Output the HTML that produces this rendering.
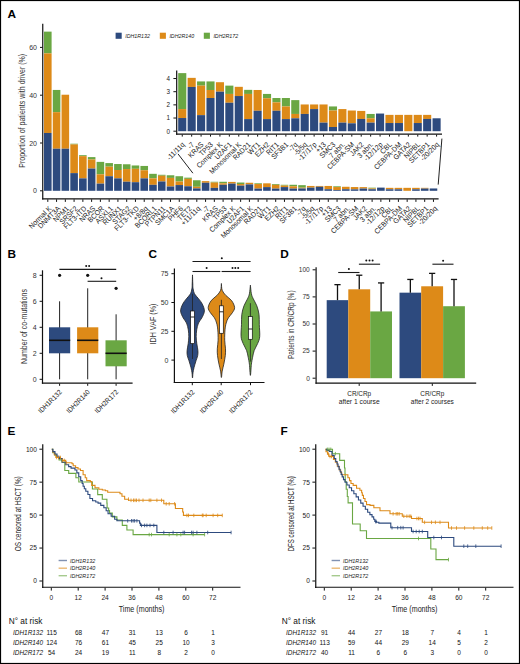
<!DOCTYPE html>
<html><head><meta charset="utf-8"><style>
html,body{margin:0;padding:0;background:#fff;}
svg{display:block;font-family:"Liberation Sans", sans-serif;}
</style></head><body>
<svg width="520" height="664" viewBox="0 0 520 664">
<rect x="0" y="0" width="520" height="664" fill="#fff"/>
<text x="7.40" y="17.50" font-size="11.8" text-anchor="start" fill="#000" font-weight="bold" font-style="normal">A</text>
<line x1="42.75" y1="23.70" x2="42.75" y2="199.40" stroke="#111" stroke-width="1.2"/>
<line x1="42.15" y1="198.80" x2="438.60" y2="198.80" stroke="#111" stroke-width="1.2"/>
<line x1="40.00" y1="190.80" x2="42.50" y2="190.80" stroke="#111" stroke-width="1.0"/>
<text x="37.00" y="193.30" font-size="7" text-anchor="end" fill="#333" font-weight="normal" font-style="normal">0</text>
<line x1="40.00" y1="143.00" x2="42.50" y2="143.00" stroke="#111" stroke-width="1.0"/>
<text x="37.00" y="145.50" font-size="7" text-anchor="end" fill="#333" font-weight="normal" font-style="normal">20</text>
<line x1="40.00" y1="95.20" x2="42.50" y2="95.20" stroke="#111" stroke-width="1.0"/>
<text x="37.00" y="97.70" font-size="7" text-anchor="end" fill="#333" font-weight="normal" font-style="normal">40</text>
<line x1="40.00" y1="47.40" x2="42.50" y2="47.40" stroke="#111" stroke-width="1.0"/>
<text x="37.00" y="49.90" font-size="7" text-anchor="end" fill="#333" font-weight="normal" font-style="normal">60</text>
<text x="24.80" y="110.80" font-size="9.5" text-anchor="middle" fill="#333" font-weight="normal" font-style="normal" transform="rotate(-90 24.80 110.80)" textLength="114" lengthAdjust="spacingAndGlyphs">Proportion of patients with driver (%)</text>
<rect x="44.00" y="31.63" width="7.60" height="21.75" fill="#6aa743"/>
<rect x="44.00" y="53.38" width="7.60" height="79.59" fill="#dd8a18"/>
<rect x="44.00" y="132.96" width="7.60" height="57.84" fill="#2d4a7e"/>
<line x1="47.80" y1="199.30" x2="47.80" y2="201.90" stroke="#111" stroke-width="1.0"/>
<text x="52.00" y="209.00" font-size="7.3" text-anchor="end" fill="#222" font-weight="normal" font-style="normal" transform="rotate(-45 52.00 209.00)" textLength="28.75" lengthAdjust="spacingAndGlyphs">Normal K</text>
<rect x="52.77" y="89.94" width="7.60" height="22.23" fill="#6aa743"/>
<rect x="52.77" y="112.17" width="7.60" height="36.57" fill="#dd8a18"/>
<rect x="52.77" y="148.74" width="7.60" height="42.06" fill="#2d4a7e"/>
<line x1="56.56" y1="199.30" x2="56.56" y2="201.90" stroke="#111" stroke-width="1.0"/>
<text x="60.77" y="209.00" font-size="7.3" text-anchor="end" fill="#222" font-weight="normal" font-style="normal" transform="rotate(-45 60.77 209.00)" textLength="28.37" lengthAdjust="spacingAndGlyphs">DNMT3A</text>
<rect x="61.53" y="94.72" width="7.60" height="54.01" fill="#dd8a18"/>
<rect x="61.53" y="148.74" width="7.60" height="42.06" fill="#2d4a7e"/>
<line x1="65.33" y1="199.30" x2="65.33" y2="201.90" stroke="#111" stroke-width="1.0"/>
<text x="69.53" y="209.00" font-size="7.3" text-anchor="end" fill="#222" font-weight="normal" font-style="normal" transform="rotate(-45 69.53 209.00)" textLength="19.17" lengthAdjust="spacingAndGlyphs">NPM1</text>
<rect x="70.30" y="143.72" width="7.60" height="0.72" fill="#6aa743"/>
<rect x="70.30" y="144.43" width="7.60" height="28.68" fill="#dd8a18"/>
<rect x="70.30" y="173.11" width="7.60" height="17.69" fill="#2d4a7e"/>
<line x1="74.09" y1="199.30" x2="74.09" y2="201.90" stroke="#111" stroke-width="1.0"/>
<text x="78.30" y="209.00" font-size="7.3" text-anchor="end" fill="#222" font-weight="normal" font-style="normal" transform="rotate(-45 78.30 209.00)" textLength="22.24" lengthAdjust="spacingAndGlyphs">SRSF2</text>
<rect x="79.06" y="155.19" width="7.60" height="0.96" fill="#6aa743"/>
<rect x="79.06" y="156.15" width="7.60" height="22.23" fill="#dd8a18"/>
<rect x="79.06" y="178.37" width="7.60" height="12.43" fill="#2d4a7e"/>
<line x1="82.86" y1="199.30" x2="82.86" y2="201.90" stroke="#111" stroke-width="1.0"/>
<text x="87.06" y="209.00" font-size="7.3" text-anchor="end" fill="#222" font-weight="normal" font-style="normal" transform="rotate(-45 87.06 209.00)" textLength="29.0" lengthAdjust="spacingAndGlyphs">FLT3-ITD</text>
<rect x="87.83" y="157.10" width="7.60" height="2.39" fill="#6aa743"/>
<rect x="87.83" y="159.49" width="7.60" height="9.08" fill="#dd8a18"/>
<rect x="87.83" y="168.57" width="7.60" height="22.23" fill="#2d4a7e"/>
<line x1="91.62" y1="199.30" x2="91.62" y2="201.90" stroke="#111" stroke-width="1.0"/>
<text x="95.83" y="209.00" font-size="7.3" text-anchor="end" fill="#222" font-weight="normal" font-style="normal" transform="rotate(-45 95.83 209.00)" textLength="19.17" lengthAdjust="spacingAndGlyphs">NRAS</text>
<rect x="96.59" y="161.88" width="7.60" height="12.43" fill="#6aa743"/>
<rect x="96.59" y="174.31" width="7.60" height="9.32" fill="#dd8a18"/>
<rect x="96.59" y="183.63" width="7.60" height="7.17" fill="#2d4a7e"/>
<line x1="100.39" y1="199.30" x2="100.39" y2="201.90" stroke="#111" stroke-width="1.0"/>
<text x="104.59" y="209.00" font-size="7.3" text-anchor="end" fill="#222" font-weight="normal" font-style="normal" transform="rotate(-45 104.59 209.00)" textLength="19.94" lengthAdjust="spacingAndGlyphs">BCOR</text>
<rect x="105.36" y="163.08" width="7.60" height="3.58" fill="#6aa743"/>
<rect x="105.36" y="166.66" width="7.60" height="9.56" fill="#dd8a18"/>
<rect x="105.36" y="176.22" width="7.60" height="14.58" fill="#2d4a7e"/>
<line x1="109.16" y1="199.30" x2="109.16" y2="201.90" stroke="#111" stroke-width="1.0"/>
<text x="113.36" y="209.00" font-size="7.3" text-anchor="end" fill="#222" font-weight="normal" font-style="normal" transform="rotate(-45 113.36 209.00)" textLength="21.48" lengthAdjust="spacingAndGlyphs">ASXL1</text>
<rect x="114.12" y="164.03" width="7.60" height="5.97" fill="#6aa743"/>
<rect x="114.12" y="170.01" width="7.60" height="8.37" fill="#dd8a18"/>
<rect x="114.12" y="178.37" width="7.60" height="12.43" fill="#2d4a7e"/>
<line x1="117.92" y1="199.30" x2="117.92" y2="201.90" stroke="#111" stroke-width="1.0"/>
<text x="122.12" y="209.00" font-size="7.3" text-anchor="end" fill="#222" font-weight="normal" font-style="normal" transform="rotate(-45 122.12 209.00)" textLength="23.39" lengthAdjust="spacingAndGlyphs">RUNX1</text>
<rect x="122.89" y="164.27" width="7.60" height="4.78" fill="#6aa743"/>
<rect x="122.89" y="169.05" width="7.60" height="12.67" fill="#dd8a18"/>
<rect x="122.89" y="181.72" width="7.60" height="9.08" fill="#2d4a7e"/>
<line x1="126.69" y1="199.30" x2="126.69" y2="201.90" stroke="#111" stroke-width="1.0"/>
<text x="130.88" y="209.00" font-size="7.3" text-anchor="end" fill="#222" font-weight="normal" font-style="normal" transform="rotate(-45 130.88 209.00)" textLength="22.11" lengthAdjust="spacingAndGlyphs">STAG2</text>
<rect x="131.65" y="165.47" width="7.60" height="3.35" fill="#6aa743"/>
<rect x="131.65" y="168.81" width="7.60" height="13.38" fill="#dd8a18"/>
<rect x="131.65" y="182.20" width="7.60" height="8.60" fill="#2d4a7e"/>
<line x1="135.45" y1="199.30" x2="135.45" y2="201.90" stroke="#111" stroke-width="1.0"/>
<text x="139.65" y="209.00" font-size="7.3" text-anchor="end" fill="#222" font-weight="normal" font-style="normal" transform="rotate(-45 139.65 209.00)" textLength="31.69" lengthAdjust="spacingAndGlyphs">FLT3-TKD</text>
<rect x="140.42" y="165.94" width="7.60" height="4.30" fill="#6aa743"/>
<rect x="140.42" y="170.25" width="7.60" height="8.13" fill="#dd8a18"/>
<rect x="140.42" y="178.37" width="7.60" height="12.43" fill="#2d4a7e"/>
<line x1="144.22" y1="199.30" x2="144.22" y2="201.90" stroke="#111" stroke-width="1.0"/>
<text x="148.42" y="209.00" font-size="7.3" text-anchor="end" fill="#222" font-weight="normal" font-style="normal" transform="rotate(-45 148.42 209.00)" textLength="17.46" lengthAdjust="spacingAndGlyphs">+8/8q</text>
<rect x="149.18" y="173.83" width="7.60" height="4.54" fill="#6aa743"/>
<rect x="149.18" y="178.37" width="7.60" height="6.45" fill="#dd8a18"/>
<rect x="149.18" y="184.83" width="7.60" height="5.97" fill="#2d4a7e"/>
<line x1="152.98" y1="199.30" x2="152.98" y2="201.90" stroke="#111" stroke-width="1.0"/>
<text x="157.18" y="209.00" font-size="7.3" text-anchor="end" fill="#222" font-weight="normal" font-style="normal" transform="rotate(-45 157.18 209.00)" textLength="27.61" lengthAdjust="spacingAndGlyphs">BCORL1</text>
<rect x="157.94" y="174.79" width="7.60" height="0.96" fill="#6aa743"/>
<rect x="157.94" y="175.74" width="7.60" height="5.74" fill="#dd8a18"/>
<rect x="157.94" y="181.48" width="7.60" height="9.32" fill="#2d4a7e"/>
<line x1="161.75" y1="199.30" x2="161.75" y2="201.90" stroke="#111" stroke-width="1.0"/>
<text x="165.94" y="209.00" font-size="7.3" text-anchor="end" fill="#222" font-weight="normal" font-style="normal" transform="rotate(-45 165.94 209.00)" textLength="25.56" lengthAdjust="spacingAndGlyphs">PTPN11</text>
<rect x="166.71" y="175.27" width="7.60" height="2.63" fill="#6aa743"/>
<rect x="166.71" y="177.89" width="7.60" height="8.60" fill="#dd8a18"/>
<rect x="166.71" y="186.50" width="7.60" height="4.30" fill="#2d4a7e"/>
<line x1="170.51" y1="199.30" x2="170.51" y2="201.90" stroke="#111" stroke-width="1.0"/>
<text x="174.71" y="209.00" font-size="7.3" text-anchor="end" fill="#222" font-weight="normal" font-style="normal" transform="rotate(-45 174.71 209.00)" textLength="23.77" lengthAdjust="spacingAndGlyphs">SMC1A</text>
<rect x="175.48" y="176.22" width="7.60" height="5.26" fill="#6aa743"/>
<rect x="175.48" y="181.48" width="7.60" height="3.59" fill="#dd8a18"/>
<rect x="175.48" y="185.06" width="7.60" height="5.74" fill="#2d4a7e"/>
<line x1="179.28" y1="199.30" x2="179.28" y2="201.90" stroke="#111" stroke-width="1.0"/>
<text x="183.48" y="209.00" font-size="7.3" text-anchor="end" fill="#222" font-weight="normal" font-style="normal" transform="rotate(-45 183.48 209.00)" textLength="17.64" lengthAdjust="spacingAndGlyphs">PHF6</text>
<rect x="184.24" y="177.66" width="7.60" height="1.20" fill="#6aa743"/>
<rect x="184.24" y="178.85" width="7.60" height="7.41" fill="#dd8a18"/>
<rect x="184.24" y="186.26" width="7.60" height="4.54" fill="#2d4a7e"/>
<line x1="188.04" y1="199.30" x2="188.04" y2="201.90" stroke="#111" stroke-width="1.0"/>
<text x="192.24" y="209.00" font-size="7.3" text-anchor="end" fill="#222" font-weight="normal" font-style="normal" transform="rotate(-45 192.24 209.00)" textLength="16.87" lengthAdjust="spacingAndGlyphs">TET2</text>
<rect x="193.00" y="180.26" width="7.60" height="6.52" fill="#6aa743"/>
<rect x="193.00" y="186.78" width="7.60" height="1.63" fill="#dd8a18"/>
<rect x="193.00" y="188.41" width="7.60" height="2.39" fill="#2d4a7e"/>
<line x1="196.81" y1="199.30" x2="196.81" y2="201.90" stroke="#111" stroke-width="1.0"/>
<text x="201.00" y="209.00" font-size="7.3" text-anchor="end" fill="#222" font-weight="normal" font-style="normal" transform="rotate(-45 201.00 209.00)" textLength="24.11" lengthAdjust="spacingAndGlyphs">+11/11q</text>
<rect x="201.77" y="181.12" width="7.60" height="1.65" fill="#dd8a18"/>
<rect x="201.77" y="182.77" width="7.60" height="8.03" fill="#2d4a7e"/>
<line x1="205.57" y1="199.30" x2="205.57" y2="201.90" stroke="#111" stroke-width="1.0"/>
<text x="209.77" y="209.00" font-size="7.3" text-anchor="end" fill="#222" font-weight="normal" font-style="normal" transform="rotate(-45 209.77 209.00)" textLength="6.13" lengthAdjust="spacingAndGlyphs">-7</text>
<rect x="210.54" y="181.77" width="7.60" height="0.76" fill="#6aa743"/>
<rect x="210.54" y="182.53" width="7.60" height="5.35" fill="#dd8a18"/>
<rect x="210.54" y="187.88" width="7.60" height="2.92" fill="#2d4a7e"/>
<line x1="214.34" y1="199.30" x2="214.34" y2="201.90" stroke="#111" stroke-width="1.0"/>
<text x="218.54" y="209.00" font-size="7.3" text-anchor="end" fill="#222" font-weight="normal" font-style="normal" transform="rotate(-45 218.54 209.00)" textLength="18.79" lengthAdjust="spacingAndGlyphs">KRAS</text>
<rect x="219.30" y="181.77" width="7.60" height="1.55" fill="#6aa743"/>
<rect x="219.30" y="183.32" width="7.60" height="1.46" fill="#dd8a18"/>
<rect x="219.30" y="184.78" width="7.60" height="6.02" fill="#2d4a7e"/>
<line x1="223.10" y1="199.30" x2="223.10" y2="201.90" stroke="#111" stroke-width="1.0"/>
<text x="227.30" y="209.00" font-size="7.3" text-anchor="end" fill="#222" font-weight="normal" font-style="normal" transform="rotate(-45 227.30 209.00)" textLength="16.49" lengthAdjust="spacingAndGlyphs">TP53</text>
<rect x="228.06" y="181.91" width="7.60" height="1.72" fill="#dd8a18"/>
<rect x="228.06" y="183.63" width="7.60" height="7.17" fill="#2d4a7e"/>
<line x1="231.87" y1="199.30" x2="231.87" y2="201.90" stroke="#111" stroke-width="1.0"/>
<text x="236.06" y="209.00" font-size="7.3" text-anchor="end" fill="#222" font-weight="normal" font-style="normal" transform="rotate(-45 236.06 209.00)" textLength="33.74" lengthAdjust="spacingAndGlyphs">Complex K</text>
<rect x="236.83" y="182.53" width="7.60" height="1.51" fill="#6aa743"/>
<rect x="236.83" y="184.04" width="7.60" height="1.60" fill="#dd8a18"/>
<rect x="236.83" y="185.64" width="7.60" height="5.16" fill="#2d4a7e"/>
<line x1="240.63" y1="199.30" x2="240.63" y2="201.90" stroke="#111" stroke-width="1.0"/>
<text x="244.83" y="209.00" font-size="7.3" text-anchor="end" fill="#222" font-weight="normal" font-style="normal" transform="rotate(-45 244.83 209.00)" textLength="21.47" lengthAdjust="spacingAndGlyphs">U2AF1</text>
<rect x="245.60" y="182.75" width="7.60" height="1.67" fill="#dd8a18"/>
<rect x="245.60" y="184.42" width="7.60" height="6.38" fill="#2d4a7e"/>
<line x1="249.40" y1="199.30" x2="249.40" y2="201.90" stroke="#111" stroke-width="1.0"/>
<text x="253.60" y="209.00" font-size="7.3" text-anchor="end" fill="#222" font-weight="normal" font-style="normal" transform="rotate(-45 253.60 209.00)" textLength="42.18" lengthAdjust="spacingAndGlyphs">Monosomal K</text>
<rect x="254.36" y="183.30" width="7.60" height="0.74" fill="#6aa743"/>
<rect x="254.36" y="184.04" width="7.60" height="4.56" fill="#dd8a18"/>
<rect x="254.36" y="188.60" width="7.60" height="2.20" fill="#2d4a7e"/>
<line x1="258.16" y1="199.30" x2="258.16" y2="201.90" stroke="#111" stroke-width="1.0"/>
<text x="262.36" y="209.00" font-size="7.3" text-anchor="end" fill="#222" font-weight="normal" font-style="normal" transform="rotate(-45 262.36 209.00)" textLength="22.24" lengthAdjust="spacingAndGlyphs">RAD21</text>
<rect x="263.12" y="183.32" width="7.60" height="3.78" fill="#dd8a18"/>
<rect x="263.12" y="187.10" width="7.60" height="3.70" fill="#2d4a7e"/>
<line x1="266.93" y1="199.30" x2="266.93" y2="201.90" stroke="#111" stroke-width="1.0"/>
<text x="271.12" y="209.00" font-size="7.3" text-anchor="end" fill="#222" font-weight="normal" font-style="normal" transform="rotate(-45 271.12 209.00)" textLength="14.56" lengthAdjust="spacingAndGlyphs">WT1</text>
<rect x="271.89" y="184.04" width="7.60" height="0.79" fill="#6aa743"/>
<rect x="271.89" y="184.83" width="7.60" height="3.78" fill="#dd8a18"/>
<rect x="271.89" y="188.60" width="7.60" height="2.20" fill="#2d4a7e"/>
<line x1="275.69" y1="199.30" x2="275.69" y2="201.90" stroke="#111" stroke-width="1.0"/>
<text x="279.89" y="209.00" font-size="7.3" text-anchor="end" fill="#222" font-weight="normal" font-style="normal" transform="rotate(-45 279.89 209.00)" textLength="17.64" lengthAdjust="spacingAndGlyphs">EZH2</text>
<rect x="280.66" y="184.78" width="7.60" height="0.79" fill="#6aa743"/>
<rect x="280.66" y="185.57" width="7.60" height="1.53" fill="#dd8a18"/>
<rect x="280.66" y="187.10" width="7.60" height="3.70" fill="#2d4a7e"/>
<line x1="284.46" y1="199.30" x2="284.46" y2="201.90" stroke="#111" stroke-width="1.0"/>
<text x="288.66" y="209.00" font-size="7.3" text-anchor="end" fill="#222" font-weight="normal" font-style="normal" transform="rotate(-45 288.66 209.00)" textLength="14.95" lengthAdjust="spacingAndGlyphs">RIT1</text>
<rect x="289.42" y="184.78" width="7.60" height="1.53" fill="#6aa743"/>
<rect x="289.42" y="186.31" width="7.60" height="2.29" fill="#dd8a18"/>
<rect x="289.42" y="188.60" width="7.60" height="2.20" fill="#2d4a7e"/>
<line x1="293.22" y1="199.30" x2="293.22" y2="201.90" stroke="#111" stroke-width="1.0"/>
<text x="297.42" y="209.00" font-size="7.3" text-anchor="end" fill="#222" font-weight="normal" font-style="normal" transform="rotate(-45 297.42 209.00)" textLength="21.09" lengthAdjust="spacingAndGlyphs">SF3B1</text>
<rect x="298.19" y="185.16" width="7.60" height="2.51" fill="#6aa743"/>
<rect x="298.19" y="187.67" width="7.60" height="0.79" fill="#dd8a18"/>
<rect x="298.19" y="188.46" width="7.60" height="2.34" fill="#2d4a7e"/>
<line x1="301.99" y1="199.30" x2="301.99" y2="201.90" stroke="#111" stroke-width="1.0"/>
<text x="306.19" y="209.00" font-size="7.3" text-anchor="end" fill="#222" font-weight="normal" font-style="normal" transform="rotate(-45 306.19 209.00)" textLength="9.97" lengthAdjust="spacingAndGlyphs">-7q</text>
<rect x="306.95" y="185.95" width="7.60" height="1.72" fill="#dd8a18"/>
<rect x="306.95" y="187.67" width="7.60" height="3.13" fill="#2d4a7e"/>
<line x1="310.75" y1="199.30" x2="310.75" y2="201.90" stroke="#111" stroke-width="1.0"/>
<text x="314.95" y="209.00" font-size="7.3" text-anchor="end" fill="#222" font-weight="normal" font-style="normal" transform="rotate(-45 314.95 209.00)" textLength="15.73" lengthAdjust="spacingAndGlyphs">-5/5q</text>
<rect x="315.72" y="185.95" width="7.60" height="0.84" fill="#dd8a18"/>
<rect x="315.72" y="186.78" width="7.60" height="4.02" fill="#2d4a7e"/>
<line x1="319.52" y1="199.30" x2="319.52" y2="201.90" stroke="#111" stroke-width="1.0"/>
<text x="323.72" y="209.00" font-size="7.3" text-anchor="end" fill="#222" font-weight="normal" font-style="normal" transform="rotate(-45 323.72 209.00)" textLength="23.4" lengthAdjust="spacingAndGlyphs">-17/17p</text>
<rect x="324.48" y="185.95" width="7.60" height="3.30" fill="#dd8a18"/>
<rect x="324.48" y="189.25" width="7.60" height="1.55" fill="#2d4a7e"/>
<line x1="328.28" y1="199.30" x2="328.28" y2="201.90" stroke="#111" stroke-width="1.0"/>
<text x="332.48" y="209.00" font-size="7.3" text-anchor="end" fill="#222" font-weight="normal" font-style="normal" transform="rotate(-45 332.48 209.00)" textLength="11.7" lengthAdjust="spacingAndGlyphs">+13</text>
<rect x="333.25" y="186.31" width="7.60" height="0.74" fill="#6aa743"/>
<rect x="333.25" y="187.05" width="7.60" height="2.99" fill="#dd8a18"/>
<rect x="333.25" y="190.04" width="7.60" height="0.76" fill="#2d4a7e"/>
<line x1="337.05" y1="199.30" x2="337.05" y2="201.90" stroke="#111" stroke-width="1.0"/>
<text x="341.25" y="209.00" font-size="7.3" text-anchor="end" fill="#222" font-weight="normal" font-style="normal" transform="rotate(-45 341.25 209.00)" textLength="19.17" lengthAdjust="spacingAndGlyphs">SMC3</text>
<rect x="342.01" y="186.78" width="7.60" height="2.46" fill="#dd8a18"/>
<rect x="342.01" y="189.25" width="7.60" height="1.55" fill="#2d4a7e"/>
<line x1="345.81" y1="199.30" x2="345.81" y2="201.90" stroke="#111" stroke-width="1.0"/>
<text x="350.01" y="209.00" font-size="7.3" text-anchor="end" fill="#222" font-weight="normal" font-style="normal" transform="rotate(-45 350.01 209.00)" textLength="19.18" lengthAdjust="spacingAndGlyphs">7 abn.</text>
<rect x="350.78" y="187.05" width="7.60" height="2.32" fill="#dd8a18"/>
<rect x="350.78" y="189.37" width="7.60" height="1.43" fill="#2d4a7e"/>
<line x1="354.58" y1="199.30" x2="354.58" y2="201.90" stroke="#111" stroke-width="1.0"/>
<text x="358.78" y="209.00" font-size="7.3" text-anchor="end" fill="#222" font-weight="normal" font-style="normal" transform="rotate(-45 358.78 209.00)" textLength="35.53" lengthAdjust="spacingAndGlyphs">CEBPA-SM</text>
<rect x="359.54" y="187.12" width="7.60" height="1.46" fill="#dd8a18"/>
<rect x="359.54" y="188.58" width="7.60" height="2.22" fill="#2d4a7e"/>
<line x1="363.34" y1="199.30" x2="363.34" y2="201.90" stroke="#111" stroke-width="1.0"/>
<text x="367.54" y="209.00" font-size="7.3" text-anchor="end" fill="#222" font-weight="normal" font-style="normal" transform="rotate(-45 367.54 209.00)" textLength="16.49" lengthAdjust="spacingAndGlyphs">JAK2</text>
<rect x="368.31" y="187.67" width="7.60" height="0.79" fill="#6aa743"/>
<rect x="368.31" y="188.46" width="7.60" height="0.79" fill="#dd8a18"/>
<rect x="368.31" y="189.25" width="7.60" height="1.55" fill="#2d4a7e"/>
<line x1="372.11" y1="199.30" x2="372.11" y2="201.90" stroke="#111" stroke-width="1.0"/>
<text x="376.31" y="209.00" font-size="7.3" text-anchor="end" fill="#222" font-weight="normal" font-style="normal" transform="rotate(-45 376.31 209.00)" textLength="19.18" lengthAdjust="spacingAndGlyphs">3 abn.</text>
<rect x="377.07" y="187.60" width="7.60" height="3.20" fill="#2d4a7e"/>
<line x1="380.87" y1="199.30" x2="380.87" y2="201.90" stroke="#111" stroke-width="1.0"/>
<text x="385.07" y="209.00" font-size="7.3" text-anchor="end" fill="#222" font-weight="normal" font-style="normal" transform="rotate(-45 385.07 209.00)" textLength="23.4" lengthAdjust="spacingAndGlyphs">-12/12p</text>
<rect x="385.84" y="187.84" width="7.60" height="1.48" fill="#dd8a18"/>
<rect x="385.84" y="189.32" width="7.60" height="1.48" fill="#2d4a7e"/>
<line x1="389.64" y1="199.30" x2="389.64" y2="201.90" stroke="#111" stroke-width="1.0"/>
<text x="393.84" y="209.00" font-size="7.3" text-anchor="end" fill="#222" font-weight="normal" font-style="normal" transform="rotate(-45 393.84 209.00)" textLength="13.42" lengthAdjust="spacingAndGlyphs">CBL</text>
<rect x="394.60" y="187.84" width="7.60" height="1.48" fill="#dd8a18"/>
<rect x="394.60" y="189.32" width="7.60" height="1.48" fill="#2d4a7e"/>
<line x1="398.40" y1="199.30" x2="398.40" y2="201.90" stroke="#111" stroke-width="1.0"/>
<text x="402.60" y="209.00" font-size="7.3" text-anchor="end" fill="#222" font-weight="normal" font-style="normal" transform="rotate(-45 402.60 209.00)" textLength="35.91" lengthAdjust="spacingAndGlyphs">CEBPA-DM</text>
<rect x="403.37" y="187.84" width="7.60" height="2.96" fill="#dd8a18"/>
<line x1="407.17" y1="199.30" x2="407.17" y2="201.90" stroke="#111" stroke-width="1.0"/>
<text x="411.37" y="209.00" font-size="7.3" text-anchor="end" fill="#222" font-weight="normal" font-style="normal" transform="rotate(-45 411.37 209.00)" textLength="21.6" lengthAdjust="spacingAndGlyphs">GATA2</text>
<rect x="412.13" y="187.84" width="7.60" height="1.48" fill="#dd8a18"/>
<rect x="412.13" y="189.32" width="7.60" height="1.48" fill="#2d4a7e"/>
<line x1="415.93" y1="199.30" x2="415.93" y2="201.90" stroke="#111" stroke-width="1.0"/>
<text x="420.13" y="209.00" font-size="7.3" text-anchor="end" fill="#222" font-weight="normal" font-style="normal" transform="rotate(-45 420.13 209.00)" textLength="19.94" lengthAdjust="spacingAndGlyphs">NIPBL</text>
<rect x="420.90" y="187.84" width="7.60" height="0.74" fill="#dd8a18"/>
<rect x="420.90" y="188.58" width="7.60" height="2.22" fill="#2d4a7e"/>
<line x1="424.70" y1="199.30" x2="424.70" y2="201.90" stroke="#111" stroke-width="1.0"/>
<text x="428.90" y="209.00" font-size="7.3" text-anchor="end" fill="#222" font-weight="normal" font-style="normal" transform="rotate(-45 428.90 209.00)" textLength="26.46" lengthAdjust="spacingAndGlyphs">SETBP1</text>
<rect x="429.66" y="188.46" width="7.60" height="2.34" fill="#2d4a7e"/>
<line x1="433.46" y1="199.30" x2="433.46" y2="201.90" stroke="#111" stroke-width="1.0"/>
<text x="437.66" y="209.00" font-size="7.3" text-anchor="end" fill="#222" font-weight="normal" font-style="normal" transform="rotate(-45 437.66 209.00)" textLength="23.4" lengthAdjust="spacingAndGlyphs">-20/20q</text>
<rect x="115.60" y="32.70" width="6.10" height="6.10" fill="#2d4a7e"/>
<text x="125.20" y="37.70" font-size="5.7" text-anchor="start" fill="#222" font-weight="normal" font-style="italic" textLength="24.8" lengthAdjust="spacingAndGlyphs">IDH1R132</text>
<rect x="159.80" y="32.70" width="6.10" height="6.10" fill="#dd8a18"/>
<text x="169.40" y="37.70" font-size="5.7" text-anchor="start" fill="#222" font-weight="normal" font-style="italic" textLength="24.8" lengthAdjust="spacingAndGlyphs">IDH2R140</text>
<rect x="203.80" y="32.70" width="6.10" height="6.10" fill="#6aa743"/>
<text x="213.40" y="37.70" font-size="5.7" text-anchor="start" fill="#222" font-weight="normal" font-style="italic" textLength="24.8" lengthAdjust="spacingAndGlyphs">IDH2R172</text>
<line x1="176.70" y1="70.40" x2="176.70" y2="134.80" stroke="#111" stroke-width="1.2"/>
<line x1="176.10" y1="134.20" x2="442.00" y2="134.20" stroke="#111" stroke-width="1.2"/>
<line x1="173.40" y1="131.20" x2="176.30" y2="131.20" stroke="#111" stroke-width="1.0"/>
<text x="170.00" y="133.50" font-size="6.3" text-anchor="end" fill="#222" font-weight="normal" font-style="normal">0</text>
<line x1="173.40" y1="118.03" x2="176.30" y2="118.03" stroke="#111" stroke-width="1.0"/>
<text x="170.00" y="120.33" font-size="6.3" text-anchor="end" fill="#222" font-weight="normal" font-style="normal">1</text>
<line x1="173.40" y1="104.86" x2="176.30" y2="104.86" stroke="#111" stroke-width="1.0"/>
<text x="170.00" y="107.16" font-size="6.3" text-anchor="end" fill="#222" font-weight="normal" font-style="normal">2</text>
<line x1="173.40" y1="91.69" x2="176.30" y2="91.69" stroke="#111" stroke-width="1.0"/>
<text x="170.00" y="93.99" font-size="6.3" text-anchor="end" fill="#222" font-weight="normal" font-style="normal">3</text>
<line x1="173.40" y1="78.52" x2="176.30" y2="78.52" stroke="#111" stroke-width="1.0"/>
<text x="170.00" y="80.82" font-size="6.3" text-anchor="end" fill="#222" font-weight="normal" font-style="normal">4</text>
<rect x="178.20" y="73.12" width="8.10" height="35.95" fill="#6aa743"/>
<rect x="178.20" y="109.07" width="8.10" height="8.96" fill="#dd8a18"/>
<rect x="178.20" y="118.03" width="8.10" height="13.17" fill="#2d4a7e"/>
<line x1="182.25" y1="134.60" x2="182.25" y2="136.60" stroke="#111" stroke-width="1.0"/>
<text x="185.25" y="145.10" font-size="7.3" text-anchor="end" fill="#222" font-weight="normal" font-style="normal" transform="rotate(-45 185.25 145.10)" textLength="22.05" lengthAdjust="spacingAndGlyphs">-11/11q</text>
<rect x="187.62" y="77.86" width="8.10" height="9.09" fill="#dd8a18"/>
<rect x="187.62" y="86.95" width="8.10" height="44.25" fill="#2d4a7e"/>
<line x1="191.67" y1="134.60" x2="191.67" y2="136.60" stroke="#111" stroke-width="1.0"/>
<text x="194.67" y="145.10" font-size="7.3" text-anchor="end" fill="#222" font-weight="normal" font-style="normal" transform="rotate(-45 194.67 145.10)" textLength="6.05" lengthAdjust="spacingAndGlyphs">-7</text>
<rect x="197.04" y="81.42" width="8.10" height="4.21" fill="#6aa743"/>
<rect x="197.04" y="85.63" width="8.10" height="29.50" fill="#dd8a18"/>
<rect x="197.04" y="115.13" width="8.10" height="16.07" fill="#2d4a7e"/>
<line x1="201.09" y1="134.60" x2="201.09" y2="136.60" stroke="#111" stroke-width="1.0"/>
<text x="204.09" y="145.10" font-size="7.3" text-anchor="end" fill="#222" font-weight="normal" font-style="normal" transform="rotate(-45 204.09 145.10)" textLength="18.52" lengthAdjust="spacingAndGlyphs">KRAS</text>
<rect x="206.46" y="81.42" width="8.10" height="8.56" fill="#6aa743"/>
<rect x="206.46" y="89.98" width="8.10" height="8.03" fill="#dd8a18"/>
<rect x="206.46" y="98.01" width="8.10" height="33.19" fill="#2d4a7e"/>
<line x1="210.51" y1="134.60" x2="210.51" y2="136.60" stroke="#111" stroke-width="1.0"/>
<text x="213.51" y="145.10" font-size="7.3" text-anchor="end" fill="#222" font-weight="normal" font-style="normal" transform="rotate(-45 213.51 145.10)" textLength="16.25" lengthAdjust="spacingAndGlyphs">TP53</text>
<rect x="215.88" y="82.21" width="8.10" height="9.48" fill="#dd8a18"/>
<rect x="215.88" y="91.69" width="8.10" height="39.51" fill="#2d4a7e"/>
<line x1="219.93" y1="134.60" x2="219.93" y2="136.60" stroke="#111" stroke-width="1.0"/>
<text x="222.93" y="145.10" font-size="7.3" text-anchor="end" fill="#222" font-weight="normal" font-style="normal" transform="rotate(-45 222.93 145.10)" textLength="33.26" lengthAdjust="spacingAndGlyphs">Complex K</text>
<rect x="225.30" y="85.63" width="8.10" height="8.30" fill="#6aa743"/>
<rect x="225.30" y="93.93" width="8.10" height="8.82" fill="#dd8a18"/>
<rect x="225.30" y="102.75" width="8.10" height="28.45" fill="#2d4a7e"/>
<line x1="229.35" y1="134.60" x2="229.35" y2="136.60" stroke="#111" stroke-width="1.0"/>
<text x="232.35" y="145.10" font-size="7.3" text-anchor="end" fill="#222" font-weight="normal" font-style="normal" transform="rotate(-45 232.35 145.10)" textLength="21.16" lengthAdjust="spacingAndGlyphs">U2AF1</text>
<rect x="234.72" y="86.82" width="8.10" height="9.22" fill="#dd8a18"/>
<rect x="234.72" y="96.04" width="8.10" height="35.16" fill="#2d4a7e"/>
<line x1="238.77" y1="134.60" x2="238.77" y2="136.60" stroke="#111" stroke-width="1.0"/>
<text x="241.77" y="145.10" font-size="7.3" text-anchor="end" fill="#222" font-weight="normal" font-style="normal" transform="rotate(-45 241.77 145.10)" textLength="41.57" lengthAdjust="spacingAndGlyphs">Monosomal K</text>
<rect x="244.14" y="89.85" width="8.10" height="4.08" fill="#6aa743"/>
<rect x="244.14" y="93.93" width="8.10" height="25.15" fill="#dd8a18"/>
<rect x="244.14" y="119.08" width="8.10" height="12.12" fill="#2d4a7e"/>
<line x1="248.19" y1="134.60" x2="248.19" y2="136.60" stroke="#111" stroke-width="1.0"/>
<text x="251.19" y="145.10" font-size="7.3" text-anchor="end" fill="#222" font-weight="normal" font-style="normal" transform="rotate(-45 251.19 145.10)" textLength="21.92" lengthAdjust="spacingAndGlyphs">RAD21</text>
<rect x="253.56" y="89.98" width="8.10" height="20.81" fill="#dd8a18"/>
<rect x="253.56" y="110.79" width="8.10" height="20.41" fill="#2d4a7e"/>
<line x1="257.61" y1="134.60" x2="257.61" y2="136.60" stroke="#111" stroke-width="1.0"/>
<text x="260.61" y="145.10" font-size="7.3" text-anchor="end" fill="#222" font-weight="normal" font-style="normal" transform="rotate(-45 260.61 145.10)" textLength="14.35" lengthAdjust="spacingAndGlyphs">WT1</text>
<rect x="262.98" y="93.93" width="8.10" height="4.35" fill="#6aa743"/>
<rect x="262.98" y="98.27" width="8.10" height="20.81" fill="#dd8a18"/>
<rect x="262.98" y="119.08" width="8.10" height="12.12" fill="#2d4a7e"/>
<line x1="267.03" y1="134.60" x2="267.03" y2="136.60" stroke="#111" stroke-width="1.0"/>
<text x="270.03" y="145.10" font-size="7.3" text-anchor="end" fill="#222" font-weight="normal" font-style="normal" transform="rotate(-45 270.03 145.10)" textLength="17.38" lengthAdjust="spacingAndGlyphs">EZH2</text>
<rect x="272.40" y="98.01" width="8.10" height="4.35" fill="#6aa743"/>
<rect x="272.40" y="102.36" width="8.10" height="8.43" fill="#dd8a18"/>
<rect x="272.40" y="110.79" width="8.10" height="20.41" fill="#2d4a7e"/>
<line x1="276.45" y1="134.60" x2="276.45" y2="136.60" stroke="#111" stroke-width="1.0"/>
<text x="279.45" y="145.10" font-size="7.3" text-anchor="end" fill="#222" font-weight="normal" font-style="normal" transform="rotate(-45 279.45 145.10)" textLength="14.73" lengthAdjust="spacingAndGlyphs">RIT1</text>
<rect x="281.82" y="98.01" width="8.10" height="8.43" fill="#6aa743"/>
<rect x="281.82" y="106.44" width="8.10" height="12.64" fill="#dd8a18"/>
<rect x="281.82" y="119.08" width="8.10" height="12.12" fill="#2d4a7e"/>
<line x1="285.87" y1="134.60" x2="285.87" y2="136.60" stroke="#111" stroke-width="1.0"/>
<text x="288.87" y="145.10" font-size="7.3" text-anchor="end" fill="#222" font-weight="normal" font-style="normal" transform="rotate(-45 288.87 145.10)" textLength="20.79" lengthAdjust="spacingAndGlyphs">SF3B1</text>
<rect x="291.24" y="100.12" width="8.10" height="13.83" fill="#6aa743"/>
<rect x="291.24" y="113.95" width="8.10" height="4.35" fill="#dd8a18"/>
<rect x="291.24" y="118.29" width="8.10" height="12.91" fill="#2d4a7e"/>
<line x1="295.29" y1="134.60" x2="295.29" y2="136.60" stroke="#111" stroke-width="1.0"/>
<text x="298.29" y="145.10" font-size="7.3" text-anchor="end" fill="#222" font-weight="normal" font-style="normal" transform="rotate(-45 298.29 145.10)" textLength="9.83" lengthAdjust="spacingAndGlyphs">-7q</text>
<rect x="300.66" y="104.46" width="8.10" height="9.48" fill="#dd8a18"/>
<rect x="300.66" y="113.95" width="8.10" height="17.25" fill="#2d4a7e"/>
<line x1="304.71" y1="134.60" x2="304.71" y2="136.60" stroke="#111" stroke-width="1.0"/>
<text x="307.71" y="145.10" font-size="7.3" text-anchor="end" fill="#222" font-weight="normal" font-style="normal" transform="rotate(-45 307.71 145.10)" textLength="15.5" lengthAdjust="spacingAndGlyphs">-5/5q</text>
<rect x="310.08" y="104.46" width="8.10" height="4.61" fill="#dd8a18"/>
<rect x="310.08" y="109.07" width="8.10" height="22.13" fill="#2d4a7e"/>
<line x1="314.13" y1="134.60" x2="314.13" y2="136.60" stroke="#111" stroke-width="1.0"/>
<text x="317.13" y="145.10" font-size="7.3" text-anchor="end" fill="#222" font-weight="normal" font-style="normal" transform="rotate(-45 317.13 145.10)" textLength="23.06" lengthAdjust="spacingAndGlyphs">-17/17p</text>
<rect x="319.50" y="104.46" width="8.10" height="18.17" fill="#dd8a18"/>
<rect x="319.50" y="122.64" width="8.10" height="8.56" fill="#2d4a7e"/>
<line x1="323.55" y1="134.60" x2="323.55" y2="136.60" stroke="#111" stroke-width="1.0"/>
<text x="326.55" y="145.10" font-size="7.3" text-anchor="end" fill="#222" font-weight="normal" font-style="normal" transform="rotate(-45 326.55 145.10)" textLength="11.53" lengthAdjust="spacingAndGlyphs">+13</text>
<rect x="328.92" y="106.44" width="8.10" height="4.08" fill="#6aa743"/>
<rect x="328.92" y="110.52" width="8.10" height="16.46" fill="#dd8a18"/>
<rect x="328.92" y="126.99" width="8.10" height="4.21" fill="#2d4a7e"/>
<line x1="332.97" y1="134.60" x2="332.97" y2="136.60" stroke="#111" stroke-width="1.0"/>
<text x="335.97" y="145.10" font-size="7.3" text-anchor="end" fill="#222" font-weight="normal" font-style="normal" transform="rotate(-45 335.97 145.10)" textLength="18.89" lengthAdjust="spacingAndGlyphs">SMC3</text>
<rect x="338.34" y="109.07" width="8.10" height="13.57" fill="#dd8a18"/>
<rect x="338.34" y="122.64" width="8.10" height="8.56" fill="#2d4a7e"/>
<line x1="342.39" y1="134.60" x2="342.39" y2="136.60" stroke="#111" stroke-width="1.0"/>
<text x="345.39" y="145.10" font-size="7.3" text-anchor="end" fill="#222" font-weight="normal" font-style="normal" transform="rotate(-45 345.39 145.10)" textLength="18.9" lengthAdjust="spacingAndGlyphs">7 abn.</text>
<rect x="347.76" y="110.52" width="8.10" height="12.77" fill="#dd8a18"/>
<rect x="347.76" y="123.30" width="8.10" height="7.90" fill="#2d4a7e"/>
<line x1="351.81" y1="134.60" x2="351.81" y2="136.60" stroke="#111" stroke-width="1.0"/>
<text x="354.81" y="145.10" font-size="7.3" text-anchor="end" fill="#222" font-weight="normal" font-style="normal" transform="rotate(-45 354.81 145.10)" textLength="35.01" lengthAdjust="spacingAndGlyphs">CEBPA-SM</text>
<rect x="357.18" y="110.92" width="8.10" height="8.03" fill="#dd8a18"/>
<rect x="357.18" y="118.95" width="8.10" height="12.25" fill="#2d4a7e"/>
<line x1="361.23" y1="134.60" x2="361.23" y2="136.60" stroke="#111" stroke-width="1.0"/>
<text x="364.23" y="145.10" font-size="7.3" text-anchor="end" fill="#222" font-weight="normal" font-style="normal" transform="rotate(-45 364.23 145.10)" textLength="16.25" lengthAdjust="spacingAndGlyphs">JAK2</text>
<rect x="366.60" y="113.95" width="8.10" height="4.35" fill="#6aa743"/>
<rect x="366.60" y="118.29" width="8.10" height="4.35" fill="#dd8a18"/>
<rect x="366.60" y="122.64" width="8.10" height="8.56" fill="#2d4a7e"/>
<line x1="370.65" y1="134.60" x2="370.65" y2="136.60" stroke="#111" stroke-width="1.0"/>
<text x="373.65" y="145.10" font-size="7.3" text-anchor="end" fill="#222" font-weight="normal" font-style="normal" transform="rotate(-45 373.65 145.10)" textLength="18.9" lengthAdjust="spacingAndGlyphs">3 abn.</text>
<rect x="376.02" y="113.55" width="8.10" height="17.65" fill="#2d4a7e"/>
<line x1="380.07" y1="134.60" x2="380.07" y2="136.60" stroke="#111" stroke-width="1.0"/>
<text x="383.07" y="145.10" font-size="7.3" text-anchor="end" fill="#222" font-weight="normal" font-style="normal" transform="rotate(-45 383.07 145.10)" textLength="23.06" lengthAdjust="spacingAndGlyphs">-12/12p</text>
<rect x="385.44" y="114.87" width="8.10" height="8.17" fill="#dd8a18"/>
<rect x="385.44" y="123.03" width="8.10" height="8.17" fill="#2d4a7e"/>
<line x1="389.49" y1="134.60" x2="389.49" y2="136.60" stroke="#111" stroke-width="1.0"/>
<text x="392.49" y="145.10" font-size="7.3" text-anchor="end" fill="#222" font-weight="normal" font-style="normal" transform="rotate(-45 392.49 145.10)" textLength="13.23" lengthAdjust="spacingAndGlyphs">CBL</text>
<rect x="394.86" y="114.87" width="8.10" height="8.17" fill="#dd8a18"/>
<rect x="394.86" y="123.03" width="8.10" height="8.17" fill="#2d4a7e"/>
<line x1="398.91" y1="134.60" x2="398.91" y2="136.60" stroke="#111" stroke-width="1.0"/>
<text x="401.91" y="145.10" font-size="7.3" text-anchor="end" fill="#222" font-weight="normal" font-style="normal" transform="rotate(-45 401.91 145.10)" textLength="35.39" lengthAdjust="spacingAndGlyphs">CEBPA-DM</text>
<rect x="404.28" y="114.87" width="8.10" height="16.33" fill="#dd8a18"/>
<line x1="408.33" y1="134.60" x2="408.33" y2="136.60" stroke="#111" stroke-width="1.0"/>
<text x="411.33" y="145.10" font-size="7.3" text-anchor="end" fill="#222" font-weight="normal" font-style="normal" transform="rotate(-45 411.33 145.10)" textLength="21.29" lengthAdjust="spacingAndGlyphs">GATA2</text>
<rect x="413.70" y="114.87" width="8.10" height="8.17" fill="#dd8a18"/>
<rect x="413.70" y="123.03" width="8.10" height="8.17" fill="#2d4a7e"/>
<line x1="417.75" y1="134.60" x2="417.75" y2="136.60" stroke="#111" stroke-width="1.0"/>
<text x="420.75" y="145.10" font-size="7.3" text-anchor="end" fill="#222" font-weight="normal" font-style="normal" transform="rotate(-45 420.75 145.10)" textLength="19.65" lengthAdjust="spacingAndGlyphs">NIPBL</text>
<rect x="423.12" y="114.87" width="8.10" height="4.08" fill="#dd8a18"/>
<rect x="423.12" y="118.95" width="8.10" height="12.25" fill="#2d4a7e"/>
<line x1="427.17" y1="134.60" x2="427.17" y2="136.60" stroke="#111" stroke-width="1.0"/>
<text x="430.17" y="145.10" font-size="7.3" text-anchor="end" fill="#222" font-weight="normal" font-style="normal" transform="rotate(-45 430.17 145.10)" textLength="26.08" lengthAdjust="spacingAndGlyphs">SETBP1</text>
<rect x="432.54" y="118.29" width="8.10" height="12.91" fill="#2d4a7e"/>
<line x1="436.59" y1="134.60" x2="436.59" y2="136.60" stroke="#111" stroke-width="1.0"/>
<text x="439.59" y="145.10" font-size="7.3" text-anchor="end" fill="#222" font-weight="normal" font-style="normal" transform="rotate(-45 439.59 145.10)" textLength="23.06" lengthAdjust="spacingAndGlyphs">-20/20q</text>
<line x1="178.00" y1="153.90" x2="192.90" y2="173.20" stroke="#222" stroke-width="1.0"/>
<line x1="441.90" y1="138.60" x2="438.20" y2="184.60" stroke="#222" stroke-width="1.0"/>
<text x="7.50" y="258.20" font-size="11.8" text-anchor="start" fill="#000" font-weight="bold" font-style="normal">B</text>
<line x1="42.50" y1="270.30" x2="42.50" y2="383.70" stroke="#111" stroke-width="1.2"/>
<line x1="41.90" y1="383.10" x2="132.60" y2="383.10" stroke="#111" stroke-width="1.2"/>
<line x1="39.60" y1="379.30" x2="42.10" y2="379.30" stroke="#111" stroke-width="1.0"/>
<text x="36.60" y="381.80" font-size="7" text-anchor="end" fill="#333" font-weight="normal" font-style="normal">0</text>
<line x1="39.60" y1="353.30" x2="42.10" y2="353.30" stroke="#111" stroke-width="1.0"/>
<text x="36.60" y="355.80" font-size="7" text-anchor="end" fill="#333" font-weight="normal" font-style="normal">2</text>
<line x1="39.60" y1="327.30" x2="42.10" y2="327.30" stroke="#111" stroke-width="1.0"/>
<text x="36.60" y="329.80" font-size="7" text-anchor="end" fill="#333" font-weight="normal" font-style="normal">4</text>
<line x1="39.60" y1="301.30" x2="42.10" y2="301.30" stroke="#111" stroke-width="1.0"/>
<text x="36.60" y="303.80" font-size="7" text-anchor="end" fill="#333" font-weight="normal" font-style="normal">6</text>
<line x1="39.60" y1="275.30" x2="42.10" y2="275.30" stroke="#111" stroke-width="1.0"/>
<text x="36.60" y="277.80" font-size="7" text-anchor="end" fill="#333" font-weight="normal" font-style="normal">8</text>
<text x="27.40" y="326.50" font-size="9" text-anchor="middle" fill="#333" font-weight="normal" font-style="normal" transform="rotate(-90 27.40 326.50)" textLength="75" lengthAdjust="spacingAndGlyphs">Number of co-mutations</text>
<line x1="59.60" y1="379.30" x2="59.60" y2="301.30" stroke="#222" stroke-width="1.0"/>
<rect x="49.00" y="327.30" width="21.20" height="26.00" fill="#2d4a7e"/>
<line x1="49.00" y1="340.30" x2="70.20" y2="340.30" stroke="#111" stroke-width="1.6"/>
<circle cx="59.60" cy="275.30" r="1.6" fill="#111"/>
<line x1="59.60" y1="383.50" x2="59.60" y2="385.80" stroke="#111" stroke-width="1.0"/>
<text x="62.20" y="392.60" font-size="7.0" text-anchor="end" fill="#222" font-weight="normal" font-style="normal" transform="rotate(-45 62.20 392.60)" textLength="29.9" lengthAdjust="spacingAndGlyphs">IDH1R132</text>
<line x1="87.70" y1="379.30" x2="87.70" y2="288.30" stroke="#222" stroke-width="1.0"/>
<rect x="77.10" y="327.30" width="21.20" height="26.00" fill="#dd8a18"/>
<line x1="77.10" y1="340.30" x2="98.30" y2="340.30" stroke="#111" stroke-width="1.6"/>
<circle cx="87.70" cy="275.30" r="1.6" fill="#111"/>
<line x1="87.70" y1="383.50" x2="87.70" y2="385.80" stroke="#111" stroke-width="1.0"/>
<text x="90.30" y="392.60" font-size="7.0" text-anchor="end" fill="#222" font-weight="normal" font-style="normal" transform="rotate(-45 90.30 392.60)" textLength="29.9" lengthAdjust="spacingAndGlyphs">IDH2R140</text>
<line x1="116.10" y1="379.30" x2="116.10" y2="314.30" stroke="#222" stroke-width="1.0"/>
<rect x="105.50" y="340.30" width="21.20" height="26.00" fill="#6aa743"/>
<line x1="105.50" y1="353.30" x2="126.70" y2="353.30" stroke="#111" stroke-width="1.6"/>
<circle cx="116.10" cy="288.30" r="1.6" fill="#111"/>
<line x1="116.10" y1="383.50" x2="116.10" y2="385.80" stroke="#111" stroke-width="1.0"/>
<text x="118.70" y="392.60" font-size="7.0" text-anchor="end" fill="#222" font-weight="normal" font-style="normal" transform="rotate(-45 118.70 392.60)" textLength="29.9" lengthAdjust="spacingAndGlyphs">IDH2R172</text>
<line x1="59.40" y1="269.40" x2="116.20" y2="269.40" stroke="#1a1a1a" stroke-width="1.1"/>
<circle cx="86.20" cy="266.10" r="1.0" fill="#111"/>
<circle cx="89.10" cy="266.10" r="1.0" fill="#111"/>
<line x1="87.60" y1="281.30" x2="116.20" y2="281.30" stroke="#1a1a1a" stroke-width="1.1"/>
<circle cx="101.50" cy="278.20" r="1.0" fill="#111"/>
<text x="148.60" y="258.40" font-size="11.8" text-anchor="start" fill="#000" font-weight="bold" font-style="normal">C</text>
<line x1="174.40" y1="268.50" x2="174.40" y2="383.10" stroke="#111" stroke-width="1.2"/>
<line x1="173.80" y1="382.50" x2="264.50" y2="382.50" stroke="#111" stroke-width="1.2"/>
<line x1="171.40" y1="360.10" x2="174.00" y2="360.10" stroke="#111" stroke-width="1.0"/>
<text x="168.50" y="362.60" font-size="7" text-anchor="end" fill="#333" font-weight="normal" font-style="normal">0</text>
<line x1="171.40" y1="331.30" x2="174.00" y2="331.30" stroke="#111" stroke-width="1.0"/>
<text x="168.50" y="333.80" font-size="7" text-anchor="end" fill="#333" font-weight="normal" font-style="normal">25</text>
<line x1="171.40" y1="302.50" x2="174.00" y2="302.50" stroke="#111" stroke-width="1.0"/>
<text x="168.50" y="305.00" font-size="7" text-anchor="end" fill="#333" font-weight="normal" font-style="normal">50</text>
<line x1="171.40" y1="273.70" x2="174.00" y2="273.70" stroke="#111" stroke-width="1.0"/>
<text x="168.50" y="276.20" font-size="7" text-anchor="end" fill="#333" font-weight="normal" font-style="normal">75</text>
<text x="156.00" y="324.00" font-size="9" text-anchor="middle" fill="#333" font-weight="normal" font-style="normal" transform="rotate(-90 156.00 324.00)" textLength="41" lengthAdjust="spacingAndGlyphs">IDH VAF (%)</text>
<path d="M192.50,274.90 C192.45,276.42 192.30,281.72 192.20,284.00 C192.10,286.28 192.18,286.97 191.90,288.60 C191.62,290.23 191.43,292.08 190.50,293.80 C189.57,295.52 187.60,297.18 186.30,298.90 C185.00,300.62 183.65,302.08 182.70,304.10 C181.75,306.12 180.53,308.72 180.60,311.00 C180.67,313.28 182.12,315.80 183.10,317.80 C184.08,319.80 185.63,320.98 186.50,323.00 C187.37,325.02 187.92,327.62 188.30,329.90 C188.68,332.18 188.82,334.42 188.80,336.70 C188.78,338.98 188.48,341.30 188.20,343.60 C187.92,345.90 187.25,348.50 187.10,350.50 C186.95,352.50 186.98,353.88 187.30,355.60 C187.62,357.32 188.38,358.78 189.00,360.80 C189.62,362.82 190.50,365.70 191.00,367.70 C191.50,369.70 191.75,371.08 192.00,372.80 C192.25,374.52 192.33,378.00 192.50,378.00 C192.67,378.00 192.75,374.52 193.00,372.80 C193.25,371.08 193.50,369.70 194.00,367.70 C194.50,365.70 195.38,362.82 196.00,360.80 C196.62,358.78 197.38,357.32 197.70,355.60 C198.02,353.88 198.05,352.50 197.90,350.50 C197.75,348.50 197.08,345.90 196.80,343.60 C196.52,341.30 196.22,338.98 196.20,336.70 C196.18,334.42 196.32,332.18 196.70,329.90 C197.08,327.62 197.63,325.02 198.50,323.00 C199.37,320.98 200.92,319.80 201.90,317.80 C202.88,315.80 204.33,313.28 204.40,311.00 C204.47,308.72 203.25,306.12 202.30,304.10 C201.35,302.08 200.00,300.62 198.70,298.90 C197.40,297.18 195.43,295.52 194.50,293.80 C193.57,292.08 193.38,290.23 193.10,288.60 C192.82,286.97 192.90,286.28 192.80,284.00 C192.70,281.72 192.55,276.42 192.50,274.90 Z" fill="#2d4a7e" stroke="#222" stroke-width="0.8" stroke-linejoin="round"/>
<path d="M221.40,283.50 C221.27,284.63 221.35,288.30 220.60,290.30 C219.85,292.30 218.47,293.78 216.90,295.50 C215.33,297.22 212.65,298.60 211.20,300.60 C209.75,302.60 208.33,305.48 208.20,307.50 C208.07,309.52 209.37,310.98 210.40,312.70 C211.43,314.42 213.37,316.08 214.40,317.80 C215.43,319.52 216.03,320.98 216.60,323.00 C217.17,325.02 217.55,327.03 217.80,329.90 C218.05,332.77 218.18,337.05 218.10,340.20 C218.02,343.35 217.40,346.23 217.30,348.80 C217.20,351.37 217.22,353.03 217.50,355.60 C217.78,358.17 218.48,361.62 219.00,364.20 C219.52,366.78 220.20,368.88 220.60,371.10 C221.00,373.32 221.13,377.50 221.40,377.50 C221.67,377.50 221.80,373.32 222.20,371.10 C222.60,368.88 223.28,366.78 223.80,364.20 C224.32,361.62 225.02,358.17 225.30,355.60 C225.58,353.03 225.60,351.37 225.50,348.80 C225.40,346.23 224.78,343.35 224.70,340.20 C224.62,337.05 224.75,332.77 225.00,329.90 C225.25,327.03 225.63,325.02 226.20,323.00 C226.77,320.98 227.37,319.52 228.40,317.80 C229.43,316.08 231.37,314.42 232.40,312.70 C233.43,310.98 234.73,309.52 234.60,307.50 C234.47,305.48 233.05,302.60 231.60,300.60 C230.15,298.60 227.47,297.22 225.90,295.50 C224.33,293.78 222.95,292.30 222.20,290.30 C221.45,288.30 221.53,284.63 221.40,283.50 Z" fill="#dd8a18" stroke="#222" stroke-width="0.8" stroke-linejoin="round"/>
<path d="M250.40,285.20 C250.23,286.63 249.88,291.52 249.40,293.80 C248.92,296.08 248.40,296.90 247.50,298.90 C246.60,300.90 244.95,303.22 244.00,305.80 C243.05,308.38 242.22,311.25 241.80,314.40 C241.38,317.55 241.62,320.98 241.50,324.70 C241.38,328.42 240.82,333.55 241.10,336.70 C241.38,339.85 242.28,341.30 243.20,343.60 C244.12,345.90 245.77,348.22 246.60,350.50 C247.43,352.78 247.73,355.02 248.20,357.30 C248.67,359.58 249.03,361.18 249.40,364.20 C249.77,367.22 250.07,375.40 250.40,375.40 C250.73,375.40 251.03,367.22 251.40,364.20 C251.77,361.18 252.13,359.58 252.60,357.30 C253.07,355.02 253.37,352.78 254.20,350.50 C255.03,348.22 256.68,345.90 257.60,343.60 C258.52,341.30 259.42,339.85 259.70,336.70 C259.98,333.55 259.42,328.42 259.30,324.70 C259.18,320.98 259.42,317.55 259.00,314.40 C258.58,311.25 257.75,308.38 256.80,305.80 C255.85,303.22 254.20,300.90 253.30,298.90 C252.40,296.90 251.88,296.08 251.40,293.80 C250.92,291.52 250.57,286.63 250.40,285.20 Z" fill="#6aa743" stroke="#222" stroke-width="0.8" stroke-linejoin="round"/>
<line x1="192.50" y1="293.80" x2="192.50" y2="359.00" stroke="#222" stroke-width="0.8"/>
<rect x="190.60" y="311.00" width="3.8" height="32.60" fill="#fff" stroke="#111" stroke-width="0.7"/>
<line x1="190.60" y1="317.00" x2="194.40" y2="317.00" stroke="#111" stroke-width="0.9"/>
<line x1="221.40" y1="299.80" x2="221.40" y2="359.00" stroke="#222" stroke-width="0.8"/>
<rect x="219.50" y="305.80" width="3.8" height="27.50" fill="#fff" stroke="#111" stroke-width="0.7"/>
<line x1="219.50" y1="311.80" x2="223.30" y2="311.80" stroke="#111" stroke-width="0.9"/>
<line x1="250.40" y1="303.20" x2="250.40" y2="361.60" stroke="#222" stroke-width="0.8"/>
<rect x="248.50" y="316.60" width="3.8" height="22.70" fill="#fff" stroke="#111" stroke-width="0.7"/>
<line x1="248.50" y1="329.00" x2="252.30" y2="329.00" stroke="#111" stroke-width="0.9"/>
<line x1="192.30" y1="382.90" x2="192.30" y2="385.20" stroke="#111" stroke-width="1.0"/>
<text x="194.90" y="392.80" font-size="7.0" text-anchor="end" fill="#222" font-weight="normal" font-style="normal" transform="rotate(-45 194.90 392.80)" textLength="29.9" lengthAdjust="spacingAndGlyphs">IDH1R132</text>
<line x1="221.20" y1="382.90" x2="221.20" y2="385.20" stroke="#111" stroke-width="1.0"/>
<text x="223.80" y="392.80" font-size="7.0" text-anchor="end" fill="#222" font-weight="normal" font-style="normal" transform="rotate(-45 223.80 392.80)" textLength="29.9" lengthAdjust="spacingAndGlyphs">IDH2R140</text>
<line x1="250.50" y1="382.90" x2="250.50" y2="385.20" stroke="#111" stroke-width="1.0"/>
<text x="253.10" y="392.80" font-size="7.0" text-anchor="end" fill="#222" font-weight="normal" font-style="normal" transform="rotate(-45 253.10 392.80)" textLength="29.9" lengthAdjust="spacingAndGlyphs">IDH2R172</text>
<line x1="192.50" y1="261.50" x2="250.60" y2="261.50" stroke="#1a1a1a" stroke-width="1.1"/>
<circle cx="221.80" cy="258.20" r="1.0" fill="#111"/>
<line x1="192.50" y1="271.50" x2="220.30" y2="271.50" stroke="#1a1a1a" stroke-width="1.1"/>
<circle cx="206.60" cy="268.00" r="1.0" fill="#111"/>
<line x1="221.60" y1="271.50" x2="250.60" y2="271.50" stroke="#1a1a1a" stroke-width="1.1"/>
<circle cx="232.50" cy="268.00" r="1.0" fill="#111"/>
<circle cx="235.30" cy="268.00" r="1.0" fill="#111"/>
<circle cx="238.20" cy="268.00" r="1.0" fill="#111"/>
<text x="280.20" y="258.30" font-size="11.8" text-anchor="start" fill="#000" font-weight="bold" font-style="normal">D</text>
<line x1="316.10" y1="267.20" x2="316.10" y2="383.70" stroke="#111" stroke-width="1.2"/>
<line x1="315.50" y1="383.10" x2="476.20" y2="383.10" stroke="#111" stroke-width="1.2"/>
<line x1="312.60" y1="378.20" x2="315.70" y2="378.20" stroke="#111" stroke-width="1.0"/>
<text x="309.80" y="380.50" font-size="6.6" text-anchor="end" fill="#333" font-weight="normal" font-style="normal">0</text>
<line x1="312.60" y1="351.10" x2="315.70" y2="351.10" stroke="#111" stroke-width="1.0"/>
<text x="309.80" y="353.40" font-size="6.6" text-anchor="end" fill="#333" font-weight="normal" font-style="normal">25</text>
<line x1="312.60" y1="324.00" x2="315.70" y2="324.00" stroke="#111" stroke-width="1.0"/>
<text x="309.80" y="326.30" font-size="6.6" text-anchor="end" fill="#333" font-weight="normal" font-style="normal">50</text>
<line x1="312.60" y1="296.90" x2="315.70" y2="296.90" stroke="#111" stroke-width="1.0"/>
<text x="309.80" y="299.20" font-size="6.6" text-anchor="end" fill="#333" font-weight="normal" font-style="normal">75</text>
<line x1="312.60" y1="269.80" x2="315.70" y2="269.80" stroke="#111" stroke-width="1.0"/>
<text x="309.80" y="272.10" font-size="6.6" text-anchor="end" fill="#333" font-weight="normal" font-style="normal">100</text>
<text x="294.30" y="324.70" font-size="9" text-anchor="middle" fill="#333" font-weight="normal" font-style="normal" transform="rotate(-90 294.30 324.70)" textLength="68.6" lengthAdjust="spacingAndGlyphs">Patients in CR/CRp (%)</text>
<rect x="326.70" y="300.15" width="21.60" height="78.05" fill="#2d4a7e"/>
<line x1="337.50" y1="300.15" x2="337.50" y2="284.65" stroke="#111" stroke-width="1.3"/>
<line x1="334.40" y1="284.65" x2="340.60" y2="284.65" stroke="#111" stroke-width="1.3"/>
<rect x="348.30" y="289.31" width="21.90" height="88.89" fill="#dd8a18"/>
<line x1="359.25" y1="289.31" x2="359.25" y2="275.22" stroke="#111" stroke-width="1.3"/>
<line x1="356.15" y1="275.22" x2="362.35" y2="275.22" stroke="#111" stroke-width="1.3"/>
<rect x="370.20" y="311.43" width="21.80" height="66.77" fill="#6aa743"/>
<line x1="381.10" y1="311.43" x2="381.10" y2="282.92" stroke="#111" stroke-width="1.3"/>
<line x1="378.00" y1="282.92" x2="384.20" y2="282.92" stroke="#111" stroke-width="1.3"/>
<rect x="399.50" y="292.67" width="21.70" height="85.53" fill="#2d4a7e"/>
<line x1="410.35" y1="292.67" x2="410.35" y2="279.45" stroke="#111" stroke-width="1.3"/>
<line x1="407.25" y1="279.45" x2="413.45" y2="279.45" stroke="#111" stroke-width="1.3"/>
<rect x="421.20" y="286.28" width="21.90" height="91.92" fill="#dd8a18"/>
<line x1="432.15" y1="286.28" x2="432.15" y2="273.38" stroke="#111" stroke-width="1.3"/>
<line x1="429.05" y1="273.38" x2="435.25" y2="273.38" stroke="#111" stroke-width="1.3"/>
<rect x="443.10" y="306.22" width="21.80" height="71.98" fill="#6aa743"/>
<line x1="454.00" y1="306.22" x2="454.00" y2="279.45" stroke="#111" stroke-width="1.3"/>
<line x1="450.90" y1="279.45" x2="457.10" y2="279.45" stroke="#111" stroke-width="1.3"/>
<line x1="359.20" y1="383.50" x2="359.20" y2="385.90" stroke="#111" stroke-width="1.0"/>
<text x="359.20" y="395.50" font-size="7.2" text-anchor="middle" fill="#222" font-weight="normal" font-style="normal" textLength="23.9" lengthAdjust="spacingAndGlyphs">CR/CRp</text>
<text x="359.20" y="403.60" font-size="7.2" text-anchor="middle" fill="#222" font-weight="normal" font-style="normal" textLength="41.0" lengthAdjust="spacingAndGlyphs">after 1 course</text>
<line x1="432.30" y1="383.50" x2="432.30" y2="385.90" stroke="#111" stroke-width="1.0"/>
<text x="432.30" y="395.50" font-size="7.2" text-anchor="middle" fill="#222" font-weight="normal" font-style="normal" textLength="23.9" lengthAdjust="spacingAndGlyphs">CR/CRp</text>
<text x="432.30" y="403.60" font-size="7.2" text-anchor="middle" fill="#222" font-weight="normal" font-style="normal" textLength="43.0" lengthAdjust="spacingAndGlyphs">after 2 courses</text>
<line x1="338.20" y1="272.50" x2="359.50" y2="272.50" stroke="#1a1a1a" stroke-width="1.1"/>
<circle cx="348.90" cy="269.00" r="1.0" fill="#111"/>
<line x1="358.90" y1="264.20" x2="380.10" y2="264.20" stroke="#1a1a1a" stroke-width="1.1"/>
<circle cx="366.30" cy="260.60" r="1.0" fill="#111"/>
<circle cx="369.50" cy="260.60" r="1.0" fill="#111"/>
<circle cx="372.60" cy="260.60" r="1.0" fill="#111"/>
<line x1="432.40" y1="264.20" x2="453.50" y2="264.20" stroke="#1a1a1a" stroke-width="1.1"/>
<circle cx="443.10" cy="260.70" r="1.0" fill="#111"/>
<text x="7.60" y="435.00" font-size="11.8" text-anchor="start" fill="#000" font-weight="bold" font-style="normal">E</text>
<line x1="42.75" y1="444.20" x2="42.75" y2="587.90" stroke="#111" stroke-width="1.2"/>
<line x1="42.15" y1="587.30" x2="240.50" y2="587.30" stroke="#111" stroke-width="1.1"/>
<line x1="39.40" y1="581.00" x2="42.35" y2="581.00" stroke="#111" stroke-width="1.0"/>
<text x="36.90" y="583.40" font-size="6.6" text-anchor="end" fill="#222" font-weight="normal" font-style="normal">0</text>
<line x1="39.40" y1="548.05" x2="42.35" y2="548.05" stroke="#111" stroke-width="1.0"/>
<text x="36.90" y="550.45" font-size="6.6" text-anchor="end" fill="#222" font-weight="normal" font-style="normal">25</text>
<line x1="39.40" y1="515.10" x2="42.35" y2="515.10" stroke="#111" stroke-width="1.0"/>
<text x="36.90" y="517.50" font-size="6.6" text-anchor="end" fill="#222" font-weight="normal" font-style="normal">50</text>
<line x1="39.40" y1="482.15" x2="42.35" y2="482.15" stroke="#111" stroke-width="1.0"/>
<text x="36.90" y="484.55" font-size="6.6" text-anchor="end" fill="#222" font-weight="normal" font-style="normal">75</text>
<line x1="39.40" y1="449.20" x2="42.35" y2="449.20" stroke="#111" stroke-width="1.0"/>
<text x="36.90" y="451.60" font-size="6.6" text-anchor="end" fill="#222" font-weight="normal" font-style="normal">100</text>
<line x1="51.30" y1="587.70" x2="51.30" y2="590.60" stroke="#111" stroke-width="1.0"/>
<text x="51.30" y="600.00" font-size="7.0" text-anchor="middle" fill="#222" font-weight="normal" font-style="normal" textLength="3.67" lengthAdjust="spacingAndGlyphs">0</text>
<line x1="78.20" y1="587.70" x2="78.20" y2="590.60" stroke="#111" stroke-width="1.0"/>
<text x="78.20" y="600.00" font-size="7.0" text-anchor="middle" fill="#222" font-weight="normal" font-style="normal" textLength="7.34" lengthAdjust="spacingAndGlyphs">12</text>
<line x1="105.10" y1="587.70" x2="105.10" y2="590.60" stroke="#111" stroke-width="1.0"/>
<text x="105.10" y="600.00" font-size="7.0" text-anchor="middle" fill="#222" font-weight="normal" font-style="normal" textLength="7.34" lengthAdjust="spacingAndGlyphs">24</text>
<line x1="132.00" y1="587.70" x2="132.00" y2="590.60" stroke="#111" stroke-width="1.0"/>
<text x="132.00" y="600.00" font-size="7.0" text-anchor="middle" fill="#222" font-weight="normal" font-style="normal" textLength="7.34" lengthAdjust="spacingAndGlyphs">36</text>
<line x1="158.90" y1="587.70" x2="158.90" y2="590.60" stroke="#111" stroke-width="1.0"/>
<text x="158.90" y="600.00" font-size="7.0" text-anchor="middle" fill="#222" font-weight="normal" font-style="normal" textLength="7.34" lengthAdjust="spacingAndGlyphs">48</text>
<line x1="185.80" y1="587.70" x2="185.80" y2="590.60" stroke="#111" stroke-width="1.0"/>
<text x="185.80" y="600.00" font-size="7.0" text-anchor="middle" fill="#222" font-weight="normal" font-style="normal" textLength="7.34" lengthAdjust="spacingAndGlyphs">60</text>
<line x1="212.70" y1="587.70" x2="212.70" y2="590.60" stroke="#111" stroke-width="1.0"/>
<text x="212.70" y="600.00" font-size="7.0" text-anchor="middle" fill="#222" font-weight="normal" font-style="normal" textLength="7.34" lengthAdjust="spacingAndGlyphs">72</text>
<text x="141.60" y="612.10" font-size="8.8" text-anchor="middle" fill="#222" font-weight="normal" font-style="normal" textLength="45.7" lengthAdjust="spacingAndGlyphs">Time (months)</text>
<text x="20.90" y="513.80" font-size="9.5" text-anchor="middle" fill="#222" font-weight="normal" font-style="normal" transform="rotate(-90 20.90 513.80)" textLength="75" lengthAdjust="spacingAndGlyphs">OS censored at HSCT (%)</text>
<path d="M51.80,449.30 L52.80,449.30 L52.80,452.70 L53.80,452.70 L54.75,452.70 L54.75,455.10 L56.65,455.10 L56.65,457.50 L57.60,457.50 L59.05,457.50 L59.05,459.90 L61.95,459.90 L61.95,462.30 L63.40,462.30 L64.80,462.30 L64.80,462.80 L64.80,470.50 L65.30,470.50 L68.70,470.50 L68.70,470.50 L68.70,473.40 L69.20,473.40 L75.90,473.40 L75.90,473.40 L75.90,477.70 L76.80,477.70 L78.80,477.70 L78.80,478.20 L78.80,482.00 L79.30,482.00 L92.40,482.00 L92.40,482.00 L92.40,489.00 L92.60,489.00 L97.70,489.00 L97.70,489.00 L97.70,494.60 L97.90,494.60 L102.30,494.60 L102.30,494.60 L102.30,499.20 L102.50,499.20 L106.90,499.20 L106.90,499.20 L106.90,503.10 L107.10,503.10 L107.10,508.00 L108.20,508.00 L108.65,508.00 L108.65,510.55 L109.55,510.55 L109.55,513.10 L110.00,513.10 L112.30,513.10 L112.30,513.10 L112.30,516.90 L112.50,516.90 L116.90,516.90 L116.90,516.90 L116.90,520.00 L117.10,520.00 L122.30,520.00 L122.30,520.00 L122.30,525.40 L122.50,525.40 L126.90,525.40 L126.90,525.40 L126.90,530.00 L127.10,530.00 L133.10,530.00 L133.10,530.00 L133.10,534.60 L133.30,534.60 L204.60,534.60 L204.60,534.60" fill="none" stroke="#6aa743" stroke-width="1.1"/>
<path d="M51.80,449.30 L52.62,449.30 L52.62,452.03 L54.25,452.03 L54.25,454.77 L55.88,454.77 L55.88,457.50 L56.70,457.50 L60.50,457.50 L60.50,458.50 L62.40,458.50 L62.40,460.40 L64.30,460.40 L65.75,460.40 L65.75,462.80 L67.20,462.80 L72.00,462.80 L72.00,463.80 L73.20,463.80 L73.20,465.70 L75.60,465.70 L75.60,467.60 L76.80,467.60 L78.03,467.60 L78.03,469.05 L80.47,469.05 L80.47,470.50 L81.70,470.50 L83.10,470.50 L83.10,474.80 L84.50,474.80 L85.22,474.80 L85.22,477.70 L86.68,477.70 L86.68,480.60 L87.40,480.60 L90.30,480.60 L90.30,481.50 L91.70,481.50 L91.70,485.40 L93.10,485.40 L95.00,485.40 L95.00,487.70 L96.90,487.70 L98.85,487.70 L98.85,489.20 L100.80,489.20 L102.33,489.20 L102.33,490.00 L105.38,490.00 L105.38,490.80 L106.90,490.80 L107.70,490.80 L107.70,492.30 L108.50,492.30 L119.20,492.30 L119.20,492.30 L120.00,492.30 L120.00,493.80 L120.80,493.80 L121.95,493.80 L121.95,496.20 L123.10,496.20 L124.65,496.20 L124.65,499.20 L126.20,499.20 L128.50,499.20 L128.50,500.30 L163.80,500.30 L163.80,500.30 L163.80,503.80 L163.80,503.80 L175.40,503.80 L175.40,503.80 L175.40,508.50 L175.60,508.50 L182.30,508.50 L182.30,508.50 L182.68,508.50 L182.68,511.95 L183.43,511.95 L183.43,515.40 L183.80,515.40 L222.30,515.40 L222.30,515.40" fill="none" stroke="#dd8a18" stroke-width="1.1"/>
<path d="M51.80,449.30 L52.85,449.30 L52.85,451.65 L54.95,451.65 L54.95,454.00 L56.00,454.00 L57.00,454.00 L57.00,456.25 L59.00,456.25 L59.00,458.50 L60.00,458.50 L62.15,458.50 L62.15,462.30 L64.30,462.30 L65.75,462.30 L65.75,464.70 L67.20,464.70 L68.65,464.70 L68.65,466.60 L70.10,466.60 L71.05,466.60 L71.05,468.10 L72.00,468.10 L74.00,468.10 L74.00,468.10 L74.95,468.10 L74.95,470.00 L75.90,470.00 L76.85,470.00 L76.85,472.90 L77.80,472.90 L78.75,472.90 L78.75,476.70 L79.70,476.70 L80.70,476.70 L80.70,480.60 L81.70,480.60 L82.17,480.60 L82.17,483.45 L83.12,483.45 L83.12,486.30 L83.60,486.30 L84.32,486.30 L84.32,488.75 L85.78,488.75 L85.78,491.20 L86.50,491.20 L87.90,491.20 L87.90,494.50 L89.30,494.50 L89.90,494.50 L89.90,498.50 L90.50,498.50 L92.55,498.50 L92.55,500.80 L94.60,500.80 L95.75,500.80 L95.75,501.95 L98.05,501.95 L98.05,503.10 L99.20,503.10 L100.75,503.10 L100.75,505.40 L102.30,505.40 L103.85,505.40 L103.85,507.70 L105.40,507.70 L106.15,507.70 L106.15,510.80 L106.90,510.80 L108.05,510.80 L108.05,513.80 L109.20,513.80 L111.15,513.80 L111.15,516.20 L113.10,516.20 L114.65,516.20 L114.65,519.20 L116.20,519.20 L116.95,519.20 L116.95,520.80 L117.70,520.80 L139.20,520.80 L139.20,520.80 L139.60,520.80 L139.60,523.10 L140.40,523.10 L140.40,525.40 L140.80,525.40 L156.90,525.40 L156.90,525.40 L156.90,532.50 L157.10,532.50 L231.10,532.50 L231.10,532.50" fill="none" stroke="#2d4a7e" stroke-width="1.1"/>
<line x1="149.20" y1="532.80" x2="149.20" y2="536.40" stroke="#6aa743" stroke-width="0.8"/>
<line x1="151.50" y1="532.80" x2="151.50" y2="536.40" stroke="#6aa743" stroke-width="0.8"/>
<line x1="169.20" y1="532.80" x2="169.20" y2="536.40" stroke="#6aa743" stroke-width="0.8"/>
<line x1="176.90" y1="532.80" x2="176.90" y2="536.40" stroke="#6aa743" stroke-width="0.8"/>
<line x1="180.80" y1="532.80" x2="180.80" y2="536.40" stroke="#6aa743" stroke-width="0.8"/>
<line x1="193.10" y1="532.80" x2="193.10" y2="536.40" stroke="#6aa743" stroke-width="0.8"/>
<line x1="204.60" y1="532.80" x2="204.60" y2="536.40" stroke="#6aa743" stroke-width="0.8"/>
<line x1="56.60" y1="455.70" x2="56.60" y2="459.30" stroke="#dd8a18" stroke-width="0.8"/>
<line x1="58.50" y1="455.70" x2="58.50" y2="459.30" stroke="#dd8a18" stroke-width="0.8"/>
<line x1="60.50" y1="455.70" x2="60.50" y2="459.30" stroke="#dd8a18" stroke-width="0.8"/>
<line x1="62.50" y1="458.60" x2="62.50" y2="462.20" stroke="#dd8a18" stroke-width="0.8"/>
<line x1="64.30" y1="458.60" x2="64.30" y2="462.20" stroke="#dd8a18" stroke-width="0.8"/>
<line x1="66.20" y1="461.00" x2="66.20" y2="464.60" stroke="#dd8a18" stroke-width="0.8"/>
<line x1="128.50" y1="497.40" x2="128.50" y2="501.00" stroke="#dd8a18" stroke-width="0.8"/>
<line x1="131.00" y1="498.50" x2="131.00" y2="502.10" stroke="#dd8a18" stroke-width="0.8"/>
<line x1="133.50" y1="498.50" x2="133.50" y2="502.10" stroke="#dd8a18" stroke-width="0.8"/>
<line x1="135.00" y1="498.50" x2="135.00" y2="502.10" stroke="#dd8a18" stroke-width="0.8"/>
<line x1="136.50" y1="498.50" x2="136.50" y2="502.10" stroke="#dd8a18" stroke-width="0.8"/>
<line x1="139.00" y1="498.50" x2="139.00" y2="502.10" stroke="#dd8a18" stroke-width="0.8"/>
<line x1="143.00" y1="498.50" x2="143.00" y2="502.10" stroke="#dd8a18" stroke-width="0.8"/>
<line x1="149.20" y1="498.50" x2="149.20" y2="502.10" stroke="#dd8a18" stroke-width="0.8"/>
<line x1="150.80" y1="498.50" x2="150.80" y2="502.10" stroke="#dd8a18" stroke-width="0.8"/>
<line x1="156.90" y1="498.50" x2="156.90" y2="502.10" stroke="#dd8a18" stroke-width="0.8"/>
<line x1="161.50" y1="498.50" x2="161.50" y2="502.10" stroke="#dd8a18" stroke-width="0.8"/>
<line x1="166.20" y1="502.00" x2="166.20" y2="505.60" stroke="#dd8a18" stroke-width="0.8"/>
<line x1="169.20" y1="502.00" x2="169.20" y2="505.60" stroke="#dd8a18" stroke-width="0.8"/>
<line x1="174.60" y1="502.00" x2="174.60" y2="505.60" stroke="#dd8a18" stroke-width="0.8"/>
<line x1="186.90" y1="513.60" x2="186.90" y2="517.20" stroke="#dd8a18" stroke-width="0.8"/>
<line x1="188.50" y1="513.60" x2="188.50" y2="517.20" stroke="#dd8a18" stroke-width="0.8"/>
<line x1="193.80" y1="513.60" x2="193.80" y2="517.20" stroke="#dd8a18" stroke-width="0.8"/>
<line x1="202.30" y1="513.60" x2="202.30" y2="517.20" stroke="#dd8a18" stroke-width="0.8"/>
<line x1="203.10" y1="513.60" x2="203.10" y2="517.20" stroke="#dd8a18" stroke-width="0.8"/>
<line x1="206.20" y1="513.60" x2="206.20" y2="517.20" stroke="#dd8a18" stroke-width="0.8"/>
<line x1="213.10" y1="513.60" x2="213.10" y2="517.20" stroke="#dd8a18" stroke-width="0.8"/>
<line x1="217.70" y1="513.60" x2="217.70" y2="517.20" stroke="#dd8a18" stroke-width="0.8"/>
<line x1="222.30" y1="513.60" x2="222.30" y2="517.20" stroke="#dd8a18" stroke-width="0.8"/>
<line x1="127.70" y1="519.00" x2="127.70" y2="522.60" stroke="#2d4a7e" stroke-width="0.8"/>
<line x1="131.50" y1="519.00" x2="131.50" y2="522.60" stroke="#2d4a7e" stroke-width="0.8"/>
<line x1="133.10" y1="519.00" x2="133.10" y2="522.60" stroke="#2d4a7e" stroke-width="0.8"/>
<line x1="134.60" y1="519.00" x2="134.60" y2="522.60" stroke="#2d4a7e" stroke-width="0.8"/>
<line x1="136.90" y1="519.00" x2="136.90" y2="522.60" stroke="#2d4a7e" stroke-width="0.8"/>
<line x1="141.50" y1="523.60" x2="141.50" y2="527.20" stroke="#2d4a7e" stroke-width="0.8"/>
<line x1="144.60" y1="523.60" x2="144.60" y2="527.20" stroke="#2d4a7e" stroke-width="0.8"/>
<line x1="146.90" y1="523.60" x2="146.90" y2="527.20" stroke="#2d4a7e" stroke-width="0.8"/>
<line x1="150.00" y1="523.60" x2="150.00" y2="527.20" stroke="#2d4a7e" stroke-width="0.8"/>
<line x1="153.80" y1="523.60" x2="153.80" y2="527.20" stroke="#2d4a7e" stroke-width="0.8"/>
<line x1="163.80" y1="530.70" x2="163.80" y2="534.30" stroke="#2d4a7e" stroke-width="0.8"/>
<line x1="173.10" y1="530.70" x2="173.10" y2="534.30" stroke="#2d4a7e" stroke-width="0.8"/>
<line x1="183.10" y1="530.70" x2="183.10" y2="534.30" stroke="#2d4a7e" stroke-width="0.8"/>
<line x1="184.60" y1="530.70" x2="184.60" y2="534.30" stroke="#2d4a7e" stroke-width="0.8"/>
<line x1="191.50" y1="530.70" x2="191.50" y2="534.30" stroke="#2d4a7e" stroke-width="0.8"/>
<line x1="193.10" y1="530.70" x2="193.10" y2="534.30" stroke="#2d4a7e" stroke-width="0.8"/>
<line x1="196.90" y1="530.70" x2="196.90" y2="534.30" stroke="#2d4a7e" stroke-width="0.8"/>
<line x1="207.70" y1="530.70" x2="207.70" y2="534.30" stroke="#2d4a7e" stroke-width="0.8"/>
<line x1="231.10" y1="530.70" x2="231.10" y2="534.30" stroke="#2d4a7e" stroke-width="0.8"/>
<line x1="58.60" y1="560.50" x2="67.00" y2="560.50" stroke="#2d4a7e" stroke-width="1.4" stroke-opacity="0.6"/>
<text x="70.10" y="562.50" font-size="5.9" text-anchor="start" fill="#222" font-weight="normal" font-style="italic" textLength="25.1" lengthAdjust="spacingAndGlyphs">IDH1R132</text>
<line x1="58.60" y1="568.20" x2="67.00" y2="568.20" stroke="#dd8a18" stroke-width="1.4" stroke-opacity="0.6"/>
<text x="70.10" y="570.20" font-size="5.9" text-anchor="start" fill="#222" font-weight="normal" font-style="italic" textLength="25.1" lengthAdjust="spacingAndGlyphs">IDH2R140</text>
<line x1="58.60" y1="575.70" x2="67.00" y2="575.70" stroke="#6aa743" stroke-width="1.4" stroke-opacity="0.6"/>
<text x="70.10" y="577.70" font-size="5.9" text-anchor="start" fill="#222" font-weight="normal" font-style="italic" textLength="25.1" lengthAdjust="spacingAndGlyphs">IDH2R172</text>
<text x="8.75" y="623.80" font-size="8.6" text-anchor="start" fill="#111" font-weight="normal" font-style="normal" textLength="33.7" lengthAdjust="spacingAndGlyphs">N° at risk</text>
<text x="13.00" y="635.30" font-size="7.1" text-anchor="start" fill="#111" font-weight="normal" font-style="italic" textLength="30" lengthAdjust="spacingAndGlyphs">IDH1R132</text>
<text x="51.60" y="635.30" font-size="7.0" text-anchor="middle" fill="#111" font-weight="normal" font-style="normal" textLength="10.36" lengthAdjust="spacingAndGlyphs">115</text>
<text x="78.50" y="635.30" font-size="7.0" text-anchor="middle" fill="#111" font-weight="normal" font-style="normal" textLength="7.23" lengthAdjust="spacingAndGlyphs">68</text>
<text x="105.40" y="635.30" font-size="7.0" text-anchor="middle" fill="#111" font-weight="normal" font-style="normal" textLength="7.23" lengthAdjust="spacingAndGlyphs">47</text>
<text x="132.30" y="635.30" font-size="7.0" text-anchor="middle" fill="#111" font-weight="normal" font-style="normal" textLength="7.23" lengthAdjust="spacingAndGlyphs">31</text>
<text x="159.20" y="635.30" font-size="7.0" text-anchor="middle" fill="#111" font-weight="normal" font-style="normal" textLength="7.23" lengthAdjust="spacingAndGlyphs">13</text>
<text x="186.10" y="635.30" font-size="7.0" text-anchor="middle" fill="#111" font-weight="normal" font-style="normal" textLength="3.61" lengthAdjust="spacingAndGlyphs">6</text>
<text x="213.00" y="635.30" font-size="7.0" text-anchor="middle" fill="#111" font-weight="normal" font-style="normal" textLength="3.61" lengthAdjust="spacingAndGlyphs">1</text>
<text x="13.00" y="645.10" font-size="7.1" text-anchor="start" fill="#111" font-weight="normal" font-style="italic" textLength="30" lengthAdjust="spacingAndGlyphs">IDH2R140</text>
<text x="51.60" y="645.10" font-size="7.0" text-anchor="middle" fill="#111" font-weight="normal" font-style="normal" textLength="10.84" lengthAdjust="spacingAndGlyphs">124</text>
<text x="78.50" y="645.10" font-size="7.0" text-anchor="middle" fill="#111" font-weight="normal" font-style="normal" textLength="7.23" lengthAdjust="spacingAndGlyphs">76</text>
<text x="105.40" y="645.10" font-size="7.0" text-anchor="middle" fill="#111" font-weight="normal" font-style="normal" textLength="7.23" lengthAdjust="spacingAndGlyphs">61</text>
<text x="132.30" y="645.10" font-size="7.0" text-anchor="middle" fill="#111" font-weight="normal" font-style="normal" textLength="7.23" lengthAdjust="spacingAndGlyphs">45</text>
<text x="159.20" y="645.10" font-size="7.0" text-anchor="middle" fill="#111" font-weight="normal" font-style="normal" textLength="7.23" lengthAdjust="spacingAndGlyphs">25</text>
<text x="186.10" y="645.10" font-size="7.0" text-anchor="middle" fill="#111" font-weight="normal" font-style="normal" textLength="7.23" lengthAdjust="spacingAndGlyphs">10</text>
<text x="213.00" y="645.10" font-size="7.0" text-anchor="middle" fill="#111" font-weight="normal" font-style="normal" textLength="3.61" lengthAdjust="spacingAndGlyphs">3</text>
<text x="13.00" y="654.90" font-size="7.1" text-anchor="start" fill="#111" font-weight="normal" font-style="italic" textLength="30" lengthAdjust="spacingAndGlyphs">IDH2R172</text>
<text x="51.60" y="654.90" font-size="7.0" text-anchor="middle" fill="#111" font-weight="normal" font-style="normal" textLength="7.23" lengthAdjust="spacingAndGlyphs">54</text>
<text x="78.50" y="654.90" font-size="7.0" text-anchor="middle" fill="#111" font-weight="normal" font-style="normal" textLength="7.23" lengthAdjust="spacingAndGlyphs">24</text>
<text x="105.40" y="654.90" font-size="7.0" text-anchor="middle" fill="#111" font-weight="normal" font-style="normal" textLength="7.23" lengthAdjust="spacingAndGlyphs">19</text>
<text x="132.30" y="654.90" font-size="7.0" text-anchor="middle" fill="#111" font-weight="normal" font-style="normal" textLength="6.75" lengthAdjust="spacingAndGlyphs">11</text>
<text x="159.20" y="654.90" font-size="7.0" text-anchor="middle" fill="#111" font-weight="normal" font-style="normal" textLength="3.61" lengthAdjust="spacingAndGlyphs">8</text>
<text x="186.10" y="654.90" font-size="7.0" text-anchor="middle" fill="#111" font-weight="normal" font-style="normal" textLength="3.61" lengthAdjust="spacingAndGlyphs">2</text>
<text x="213.00" y="654.90" font-size="7.0" text-anchor="middle" fill="#111" font-weight="normal" font-style="normal" textLength="3.61" lengthAdjust="spacingAndGlyphs">0</text>
<text x="280.60" y="435.00" font-size="11.8" text-anchor="start" fill="#000" font-weight="bold" font-style="normal">F</text>
<line x1="315.75" y1="444.20" x2="315.75" y2="587.90" stroke="#111" stroke-width="1.2"/>
<line x1="315.15" y1="587.30" x2="513.50" y2="587.30" stroke="#111" stroke-width="1.1"/>
<line x1="312.40" y1="581.00" x2="315.35" y2="581.00" stroke="#111" stroke-width="1.0"/>
<text x="309.90" y="583.40" font-size="6.6" text-anchor="end" fill="#222" font-weight="normal" font-style="normal">0</text>
<line x1="312.40" y1="548.05" x2="315.35" y2="548.05" stroke="#111" stroke-width="1.0"/>
<text x="309.90" y="550.45" font-size="6.6" text-anchor="end" fill="#222" font-weight="normal" font-style="normal">25</text>
<line x1="312.40" y1="515.10" x2="315.35" y2="515.10" stroke="#111" stroke-width="1.0"/>
<text x="309.90" y="517.50" font-size="6.6" text-anchor="end" fill="#222" font-weight="normal" font-style="normal">50</text>
<line x1="312.40" y1="482.15" x2="315.35" y2="482.15" stroke="#111" stroke-width="1.0"/>
<text x="309.90" y="484.55" font-size="6.6" text-anchor="end" fill="#222" font-weight="normal" font-style="normal">75</text>
<line x1="312.40" y1="449.20" x2="315.35" y2="449.20" stroke="#111" stroke-width="1.0"/>
<text x="309.90" y="451.60" font-size="6.6" text-anchor="end" fill="#222" font-weight="normal" font-style="normal">100</text>
<line x1="324.30" y1="587.70" x2="324.30" y2="590.60" stroke="#111" stroke-width="1.0"/>
<text x="324.30" y="600.00" font-size="7.0" text-anchor="middle" fill="#222" font-weight="normal" font-style="normal" textLength="3.67" lengthAdjust="spacingAndGlyphs">0</text>
<line x1="351.20" y1="587.70" x2="351.20" y2="590.60" stroke="#111" stroke-width="1.0"/>
<text x="351.20" y="600.00" font-size="7.0" text-anchor="middle" fill="#222" font-weight="normal" font-style="normal" textLength="7.34" lengthAdjust="spacingAndGlyphs">12</text>
<line x1="378.10" y1="587.70" x2="378.10" y2="590.60" stroke="#111" stroke-width="1.0"/>
<text x="378.10" y="600.00" font-size="7.0" text-anchor="middle" fill="#222" font-weight="normal" font-style="normal" textLength="7.34" lengthAdjust="spacingAndGlyphs">24</text>
<line x1="405.00" y1="587.70" x2="405.00" y2="590.60" stroke="#111" stroke-width="1.0"/>
<text x="405.00" y="600.00" font-size="7.0" text-anchor="middle" fill="#222" font-weight="normal" font-style="normal" textLength="7.34" lengthAdjust="spacingAndGlyphs">36</text>
<line x1="431.90" y1="587.70" x2="431.90" y2="590.60" stroke="#111" stroke-width="1.0"/>
<text x="431.90" y="600.00" font-size="7.0" text-anchor="middle" fill="#222" font-weight="normal" font-style="normal" textLength="7.34" lengthAdjust="spacingAndGlyphs">48</text>
<line x1="458.80" y1="587.70" x2="458.80" y2="590.60" stroke="#111" stroke-width="1.0"/>
<text x="458.80" y="600.00" font-size="7.0" text-anchor="middle" fill="#222" font-weight="normal" font-style="normal" textLength="7.34" lengthAdjust="spacingAndGlyphs">60</text>
<line x1="485.70" y1="587.70" x2="485.70" y2="590.60" stroke="#111" stroke-width="1.0"/>
<text x="485.70" y="600.00" font-size="7.0" text-anchor="middle" fill="#222" font-weight="normal" font-style="normal" textLength="7.34" lengthAdjust="spacingAndGlyphs">72</text>
<text x="414.60" y="612.10" font-size="8.8" text-anchor="middle" fill="#222" font-weight="normal" font-style="normal" textLength="45.7" lengthAdjust="spacingAndGlyphs">Time (months)</text>
<text x="293.90" y="513.80" font-size="9.5" text-anchor="middle" fill="#222" font-weight="normal" font-style="normal" transform="rotate(-90 293.90 513.80)" textLength="75" lengthAdjust="spacingAndGlyphs">DFS censored at HSCT (%)</text>
<path d="M325.80,449.30 L332.50,449.30 L332.50,449.30 L332.50,453.70 L332.70,453.70 L339.70,453.70 L339.70,453.70 L339.70,460.40 L339.90,460.40 L344.50,460.40 L344.50,460.40 L344.50,468.00 L345.00,468.00 L345.00,474.00 L345.20,474.00 L345.20,481.50 L346.20,481.50 L346.20,489.20 L347.30,489.20 L347.30,496.50 L348.10,496.50 L348.10,502.90 L348.70,502.90 L352.50,502.90 L352.50,502.90 L352.50,524.00 L352.70,524.00 L360.20,524.00 L360.20,524.00 L360.20,530.80 L360.20,530.80 L366.50,530.80 L366.50,530.80 L366.50,538.50 L366.50,538.50 L430.80,538.50 L430.80,538.50 L430.80,549.00 L430.80,549.00 L436.00,549.00 L436.00,549.00 L436.00,559.60 L436.00,559.60 L448.50,559.60 L448.50,559.60" fill="none" stroke="#6aa743" stroke-width="1.1"/>
<path d="M325.30,449.30 L326.02,449.30 L326.02,451.70 L327.48,451.70 L327.48,454.10 L328.20,454.10 L328.90,454.10 L328.90,456.50 L329.60,456.50 L332.50,456.50 L332.50,456.50 L333.45,456.50 L333.45,459.40 L334.40,459.40 L335.35,459.40 L335.35,462.30 L336.30,462.30 L337.30,462.30 L337.30,466.20 L338.30,466.20 L339.25,466.20 L339.25,470.00 L340.20,470.00 L340.68,470.00 L340.68,472.40 L341.62,472.40 L341.62,474.80 L342.10,474.80 L347.90,474.80 L347.90,475.30 L347.90,477.70 L348.80,477.70 L349.52,477.70 L349.52,480.60 L350.98,480.60 L350.98,483.50 L351.70,483.50 L353.15,483.50 L353.15,485.40 L354.60,485.40 L356.55,485.40 L356.55,488.30 L358.50,488.30 L359.90,488.30 L359.90,490.20 L361.30,490.20 L361.65,490.20 L361.65,492.80 L362.35,492.80 L362.35,495.40 L362.70,495.40 L363.47,495.40 L363.47,498.47 L365.00,498.47 L365.00,501.53 L366.53,501.53 L366.53,504.60 L367.30,504.60 L370.00,504.60 L370.00,505.40 L373.10,505.40 L373.10,505.40 L373.85,505.40 L373.85,507.70 L374.60,507.70 L380.00,507.70 L380.00,507.70 L380.00,510.80 L380.80,510.80 L390.00,510.80 L390.00,510.80 L390.00,513.80 L390.80,513.80 L402.30,513.80 L402.30,513.80 L402.30,516.20 L403.10,516.20 L411.50,516.20 L411.50,516.20 L411.50,518.50 L412.30,518.50 L422.30,518.50 L422.30,518.50 L422.30,522.30 L423.10,522.30 L448.50,522.30 L448.50,522.30 L448.50,528.00 L449.20,528.00 L491.80,528.00 L491.80,528.00" fill="none" stroke="#dd8a18" stroke-width="1.1"/>
<path d="M325.80,449.20 L326.95,449.20 L326.95,450.35 L329.25,450.35 L329.25,451.50 L330.40,451.50 L331.95,451.50 L331.95,455.40 L333.50,455.40 L334.25,455.40 L334.25,458.45 L335.75,458.45 L335.75,461.50 L336.50,461.50 L337.02,461.50 L337.02,464.07 L338.05,464.07 L338.05,466.63 L339.08,466.63 L339.08,469.20 L339.60,469.20 L340.12,469.20 L340.12,471.77 L341.15,471.77 L341.15,474.33 L342.18,474.33 L342.18,476.90 L342.70,476.90 L343.48,476.90 L343.48,479.60 L345.02,479.60 L345.02,482.30 L345.80,482.30 L346.95,482.30 L346.95,485.00 L349.25,485.00 L349.25,487.70 L350.40,487.70 L351.55,487.70 L351.55,490.75 L353.85,490.75 L353.85,493.80 L355.00,493.80 L356.15,493.80 L356.15,496.90 L358.45,496.90 L358.45,500.00 L359.60,500.00 L360.75,500.00 L360.75,503.10 L363.05,503.10 L363.05,506.20 L364.20,506.20 L365.35,506.20 L365.35,509.25 L367.65,509.25 L367.65,512.30 L368.80,512.30 L369.88,512.30 L369.88,514.60 L372.03,514.60 L372.03,516.90 L373.10,516.90 L373.68,516.90 L373.68,519.20 L374.82,519.20 L374.82,521.50 L375.40,521.50 L376.55,521.50 L376.55,522.30 L378.85,522.30 L378.85,523.10 L380.00,523.10 L390.80,523.10 L390.80,523.10 L390.80,527.70 L391.50,527.70 L411.50,527.70 L411.50,527.70 L411.50,531.50 L412.30,531.50 L427.70,531.50 L427.70,531.50 L427.70,537.50 L428.20,537.50 L453.80,537.50 L453.80,537.50 L453.80,546.20 L453.80,546.20 L501.10,546.20 L501.10,546.20" fill="none" stroke="#2d4a7e" stroke-width="1.1"/>
<line x1="327.30" y1="447.50" x2="327.30" y2="451.10" stroke="#6aa743" stroke-width="0.8"/>
<line x1="329.00" y1="447.50" x2="329.00" y2="451.10" stroke="#6aa743" stroke-width="0.8"/>
<line x1="330.80" y1="447.50" x2="330.80" y2="451.10" stroke="#6aa743" stroke-width="0.8"/>
<line x1="335.40" y1="451.90" x2="335.40" y2="455.50" stroke="#6aa743" stroke-width="0.8"/>
<line x1="418.50" y1="536.70" x2="418.50" y2="540.30" stroke="#6aa743" stroke-width="0.8"/>
<line x1="448.50" y1="557.80" x2="448.50" y2="561.40" stroke="#6aa743" stroke-width="0.8"/>
<line x1="328.50" y1="452.30" x2="328.50" y2="455.90" stroke="#dd8a18" stroke-width="0.8"/>
<line x1="330.00" y1="454.70" x2="330.00" y2="458.30" stroke="#dd8a18" stroke-width="0.8"/>
<line x1="331.50" y1="454.70" x2="331.50" y2="458.30" stroke="#dd8a18" stroke-width="0.8"/>
<line x1="393.10" y1="512.00" x2="393.10" y2="515.60" stroke="#dd8a18" stroke-width="0.8"/>
<line x1="396.20" y1="512.00" x2="396.20" y2="515.60" stroke="#dd8a18" stroke-width="0.8"/>
<line x1="397.70" y1="512.00" x2="397.70" y2="515.60" stroke="#dd8a18" stroke-width="0.8"/>
<line x1="399.20" y1="512.00" x2="399.20" y2="515.60" stroke="#dd8a18" stroke-width="0.8"/>
<line x1="403.80" y1="514.40" x2="403.80" y2="518.00" stroke="#dd8a18" stroke-width="0.8"/>
<line x1="406.90" y1="514.40" x2="406.90" y2="518.00" stroke="#dd8a18" stroke-width="0.8"/>
<line x1="409.20" y1="514.40" x2="409.20" y2="518.00" stroke="#dd8a18" stroke-width="0.8"/>
<line x1="410.80" y1="514.40" x2="410.80" y2="518.00" stroke="#dd8a18" stroke-width="0.8"/>
<line x1="416.90" y1="516.70" x2="416.90" y2="520.30" stroke="#dd8a18" stroke-width="0.8"/>
<line x1="418.50" y1="516.70" x2="418.50" y2="520.30" stroke="#dd8a18" stroke-width="0.8"/>
<line x1="420.00" y1="516.70" x2="420.00" y2="520.30" stroke="#dd8a18" stroke-width="0.8"/>
<line x1="424.60" y1="520.50" x2="424.60" y2="524.10" stroke="#dd8a18" stroke-width="0.8"/>
<line x1="431.50" y1="520.50" x2="431.50" y2="524.10" stroke="#dd8a18" stroke-width="0.8"/>
<line x1="435.40" y1="520.50" x2="435.40" y2="524.10" stroke="#dd8a18" stroke-width="0.8"/>
<line x1="440.00" y1="520.50" x2="440.00" y2="524.10" stroke="#dd8a18" stroke-width="0.8"/>
<line x1="451.50" y1="526.20" x2="451.50" y2="529.80" stroke="#dd8a18" stroke-width="0.8"/>
<line x1="456.50" y1="526.20" x2="456.50" y2="529.80" stroke="#dd8a18" stroke-width="0.8"/>
<line x1="464.60" y1="526.20" x2="464.60" y2="529.80" stroke="#dd8a18" stroke-width="0.8"/>
<line x1="473.80" y1="526.20" x2="473.80" y2="529.80" stroke="#dd8a18" stroke-width="0.8"/>
<line x1="482.30" y1="526.20" x2="482.30" y2="529.80" stroke="#dd8a18" stroke-width="0.8"/>
<line x1="487.70" y1="526.20" x2="487.70" y2="529.80" stroke="#dd8a18" stroke-width="0.8"/>
<line x1="491.80" y1="526.20" x2="491.80" y2="529.80" stroke="#dd8a18" stroke-width="0.8"/>
<line x1="375.60" y1="519.70" x2="375.60" y2="523.30" stroke="#2d4a7e" stroke-width="0.8"/>
<line x1="376.20" y1="519.70" x2="376.20" y2="523.30" stroke="#2d4a7e" stroke-width="0.8"/>
<line x1="392.00" y1="525.90" x2="392.00" y2="529.50" stroke="#2d4a7e" stroke-width="0.8"/>
<line x1="397.70" y1="525.90" x2="397.70" y2="529.50" stroke="#2d4a7e" stroke-width="0.8"/>
<line x1="400.80" y1="525.90" x2="400.80" y2="529.50" stroke="#2d4a7e" stroke-width="0.8"/>
<line x1="403.10" y1="525.90" x2="403.10" y2="529.50" stroke="#2d4a7e" stroke-width="0.8"/>
<line x1="413.10" y1="529.70" x2="413.10" y2="533.30" stroke="#2d4a7e" stroke-width="0.8"/>
<line x1="416.20" y1="529.70" x2="416.20" y2="533.30" stroke="#2d4a7e" stroke-width="0.8"/>
<line x1="419.20" y1="529.70" x2="419.20" y2="533.30" stroke="#2d4a7e" stroke-width="0.8"/>
<line x1="422.30" y1="529.70" x2="422.30" y2="533.30" stroke="#2d4a7e" stroke-width="0.8"/>
<line x1="433.80" y1="535.70" x2="433.80" y2="539.30" stroke="#2d4a7e" stroke-width="0.8"/>
<line x1="441.50" y1="535.70" x2="441.50" y2="539.30" stroke="#2d4a7e" stroke-width="0.8"/>
<line x1="463.80" y1="544.40" x2="463.80" y2="548.00" stroke="#2d4a7e" stroke-width="0.8"/>
<line x1="467.70" y1="544.40" x2="467.70" y2="548.00" stroke="#2d4a7e" stroke-width="0.8"/>
<line x1="475.80" y1="544.40" x2="475.80" y2="548.00" stroke="#2d4a7e" stroke-width="0.8"/>
<line x1="501.10" y1="544.40" x2="501.10" y2="548.00" stroke="#2d4a7e" stroke-width="0.8"/>
<line x1="331.60" y1="560.50" x2="340.00" y2="560.50" stroke="#2d4a7e" stroke-width="1.4" stroke-opacity="0.6"/>
<text x="343.10" y="562.50" font-size="5.9" text-anchor="start" fill="#222" font-weight="normal" font-style="italic" textLength="25.1" lengthAdjust="spacingAndGlyphs">IDH1R132</text>
<line x1="331.60" y1="568.20" x2="340.00" y2="568.20" stroke="#dd8a18" stroke-width="1.4" stroke-opacity="0.6"/>
<text x="343.10" y="570.20" font-size="5.9" text-anchor="start" fill="#222" font-weight="normal" font-style="italic" textLength="25.1" lengthAdjust="spacingAndGlyphs">IDH2R140</text>
<line x1="331.60" y1="575.70" x2="340.00" y2="575.70" stroke="#6aa743" stroke-width="1.4" stroke-opacity="0.6"/>
<text x="343.10" y="577.70" font-size="5.9" text-anchor="start" fill="#222" font-weight="normal" font-style="italic" textLength="25.1" lengthAdjust="spacingAndGlyphs">IDH2R172</text>
<text x="281.75" y="623.80" font-size="8.6" text-anchor="start" fill="#111" font-weight="normal" font-style="normal" textLength="33.7" lengthAdjust="spacingAndGlyphs">N° at risk</text>
<text x="286.00" y="635.30" font-size="7.1" text-anchor="start" fill="#111" font-weight="normal" font-style="italic" textLength="30" lengthAdjust="spacingAndGlyphs">IDH1R132</text>
<text x="324.60" y="635.30" font-size="7.0" text-anchor="middle" fill="#111" font-weight="normal" font-style="normal" textLength="7.23" lengthAdjust="spacingAndGlyphs">91</text>
<text x="351.50" y="635.30" font-size="7.0" text-anchor="middle" fill="#111" font-weight="normal" font-style="normal" textLength="7.23" lengthAdjust="spacingAndGlyphs">44</text>
<text x="378.40" y="635.30" font-size="7.0" text-anchor="middle" fill="#111" font-weight="normal" font-style="normal" textLength="7.23" lengthAdjust="spacingAndGlyphs">27</text>
<text x="405.30" y="635.30" font-size="7.0" text-anchor="middle" fill="#111" font-weight="normal" font-style="normal" textLength="7.23" lengthAdjust="spacingAndGlyphs">18</text>
<text x="432.20" y="635.30" font-size="7.0" text-anchor="middle" fill="#111" font-weight="normal" font-style="normal" textLength="3.61" lengthAdjust="spacingAndGlyphs">7</text>
<text x="459.10" y="635.30" font-size="7.0" text-anchor="middle" fill="#111" font-weight="normal" font-style="normal" textLength="3.61" lengthAdjust="spacingAndGlyphs">4</text>
<text x="486.00" y="635.30" font-size="7.0" text-anchor="middle" fill="#111" font-weight="normal" font-style="normal" textLength="3.61" lengthAdjust="spacingAndGlyphs">1</text>
<text x="286.00" y="645.10" font-size="7.1" text-anchor="start" fill="#111" font-weight="normal" font-style="italic" textLength="30" lengthAdjust="spacingAndGlyphs">IDH2R140</text>
<text x="324.60" y="645.10" font-size="7.0" text-anchor="middle" fill="#111" font-weight="normal" font-style="normal" textLength="10.36" lengthAdjust="spacingAndGlyphs">113</text>
<text x="351.50" y="645.10" font-size="7.0" text-anchor="middle" fill="#111" font-weight="normal" font-style="normal" textLength="7.23" lengthAdjust="spacingAndGlyphs">59</text>
<text x="378.40" y="645.10" font-size="7.0" text-anchor="middle" fill="#111" font-weight="normal" font-style="normal" textLength="7.23" lengthAdjust="spacingAndGlyphs">44</text>
<text x="405.30" y="645.10" font-size="7.0" text-anchor="middle" fill="#111" font-weight="normal" font-style="normal" textLength="7.23" lengthAdjust="spacingAndGlyphs">29</text>
<text x="432.20" y="645.10" font-size="7.0" text-anchor="middle" fill="#111" font-weight="normal" font-style="normal" textLength="7.23" lengthAdjust="spacingAndGlyphs">14</text>
<text x="459.10" y="645.10" font-size="7.0" text-anchor="middle" fill="#111" font-weight="normal" font-style="normal" textLength="3.61" lengthAdjust="spacingAndGlyphs">5</text>
<text x="486.00" y="645.10" font-size="7.0" text-anchor="middle" fill="#111" font-weight="normal" font-style="normal" textLength="3.61" lengthAdjust="spacingAndGlyphs">2</text>
<text x="286.00" y="654.90" font-size="7.1" text-anchor="start" fill="#111" font-weight="normal" font-style="italic" textLength="30" lengthAdjust="spacingAndGlyphs">IDH2R172</text>
<text x="324.60" y="654.90" font-size="7.0" text-anchor="middle" fill="#111" font-weight="normal" font-style="normal" textLength="7.23" lengthAdjust="spacingAndGlyphs">40</text>
<text x="351.50" y="654.90" font-size="7.0" text-anchor="middle" fill="#111" font-weight="normal" font-style="normal" textLength="6.75" lengthAdjust="spacingAndGlyphs">11</text>
<text x="378.40" y="654.90" font-size="7.0" text-anchor="middle" fill="#111" font-weight="normal" font-style="normal" textLength="3.61" lengthAdjust="spacingAndGlyphs">6</text>
<text x="405.30" y="654.90" font-size="7.0" text-anchor="middle" fill="#111" font-weight="normal" font-style="normal" textLength="3.61" lengthAdjust="spacingAndGlyphs">6</text>
<text x="432.20" y="654.90" font-size="7.0" text-anchor="middle" fill="#111" font-weight="normal" font-style="normal" textLength="3.61" lengthAdjust="spacingAndGlyphs">3</text>
<text x="459.10" y="654.90" font-size="7.0" text-anchor="middle" fill="#111" font-weight="normal" font-style="normal" textLength="3.61" lengthAdjust="spacingAndGlyphs">0</text>
<text x="486.00" y="654.90" font-size="7.0" text-anchor="middle" fill="#111" font-weight="normal" font-style="normal" textLength="3.61" lengthAdjust="spacingAndGlyphs">0</text>
<rect x="0.5" y="0.5" width="519" height="663" fill="none" stroke="#000" stroke-width="1.2"/>
</svg>
</body></html>
